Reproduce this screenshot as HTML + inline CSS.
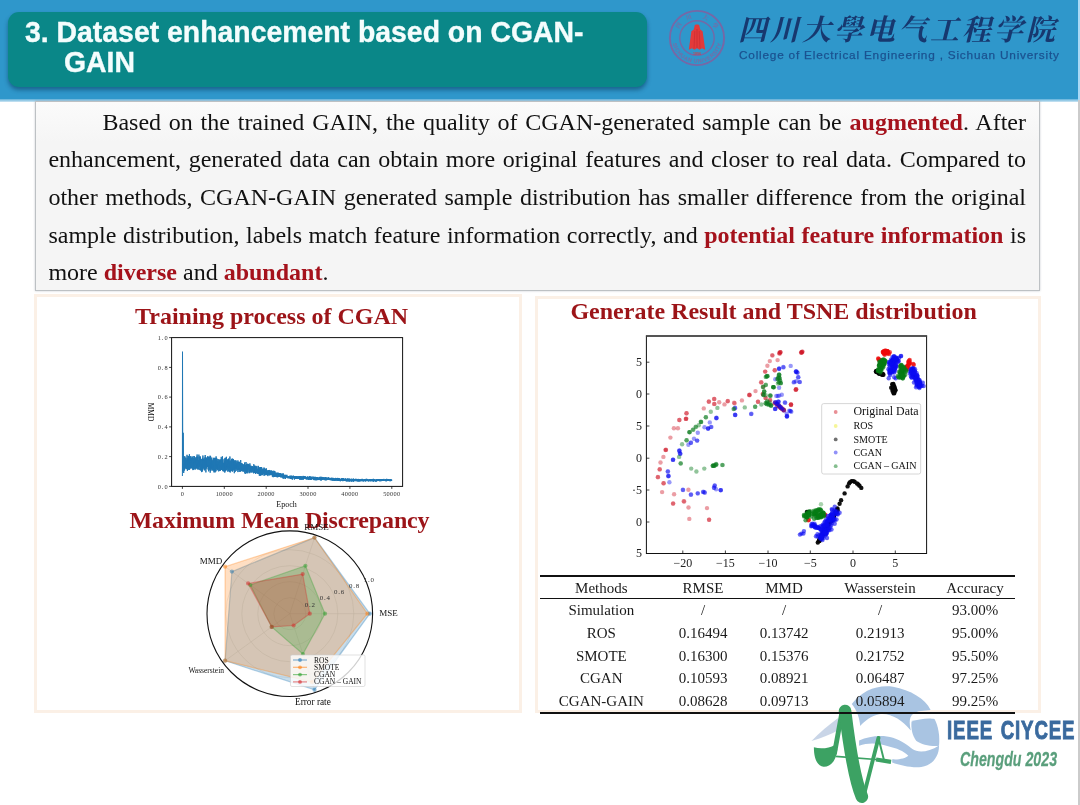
<!DOCTYPE html>
<html lang="en">
<head>
<meta charset="utf-8">
<title>3. Dataset enhancement based on CGAN-GAIN</title>
<style>
html,body{margin:0;padding:0;}
body{width:1080px;height:805px;position:relative;overflow:hidden;background:#fff;font-family:"Liberation Serif","Noto Serif CJK SC",serif;}
.abs{position:absolute;}
#hdr{left:0;top:0;width:1078px;height:99px;background:#2f97cb;}
#hdrline{left:0;top:99px;width:1078px;height:2.5px;background:linear-gradient(#5fb0da,#cfe6f3);}
#redge1{left:1078px;top:0;width:2px;height:100px;background:#a9d9f6;}
#redge2{left:1078px;top:100px;width:2px;height:705px;background:#cbcbcb;}
#teal{left:8px;top:12px;width:639px;height:74.5px;border-radius:11px;background:#0a8788;box-shadow:0 3px 4px rgba(0,40,70,.45);}
#title{left:25px;top:17px;width:620px;color:#f4fdfd;font-family:"Liberation Sans",sans-serif;font-weight:bold;font-size:28.4px;line-height:30.2px;white-space:nowrap;}
#title div{transform:scaleY(1.055);transform-origin:0 24.5px;-webkit-text-stroke:0.35px #f4fdfd;}
#title div.l2{padding-left:39px;}
#cn{left:738px;top:11px;width:324px;color:#17386f;font-family:"Liberation Serif","Noto Serif CJK SC",serif;font-weight:700;font-size:29px;line-height:38px;white-space:nowrap;letter-spacing:3px;font-style:italic;}
#en{left:739px;top:47.2px;width:324px;color:#1b5290;-webkit-text-stroke:0.25px #1b5290;font-family:"Liberation Sans",sans-serif;font-size:11.8px;line-height:16px;white-space:nowrap;letter-spacing:0.79px;}
#tbox{left:35px;top:101px;width:1003px;height:188px;border:1px solid #bdc1c4;background:linear-gradient(#fbfbfb,#f5f5f5 40px);box-shadow:0 0 2px rgba(120,130,140,.4);}
#para{left:48.4px;top:103.8px;width:977.6px;font-size:24px;line-height:37.6px;color:#111;}
#para div{text-align:justify;text-align-last:justify;white-space:nowrap;height:37.6px;}
#para div.first{padding-left:54px;}
#para div.last{text-align:left;text-align-last:left;}
#para b{color:#a5121c;}
.panel{border:3.5px solid #fbf0e6;box-sizing:border-box;background:#fff;}
#pl{left:33.5px;top:294px;width:488px;height:419px;}
#pr{left:534.7px;top:296px;width:506px;height:417px;}
.h{color:#9c1418;font-weight:bold;font-size:24px;line-height:28px;white-space:nowrap;text-align:center;}
#h1{left:121.6px;top:302px;width:300px;}
#h2{left:79.5px;top:505.7px;width:400px;letter-spacing:-0.15px;}
#h3{left:523.6px;top:296.5px;width:500px;}
svg text{font-family:"Liberation Serif",serif;fill:#111;}
svg text.tk{font-size:6.3px;fill:#333;letter-spacing:0.3px;}
svg text.tk2{font-size:12px;fill:#222;}
svg text.lb{font-size:7.5px;fill:#111;}
.tc{position:absolute;width:120px;height:20px;line-height:20px;text-align:center;font-size:15px;color:#1a1a1a;white-space:nowrap;}
.rule{position:absolute;left:540.2px;width:474.5px;background:#111;}
#ieee1{left:947px;top:715.3px;color:#3a6a9e;font-family:"Liberation Sans",sans-serif;font-weight:bold;font-size:25px;line-height:30px;white-space:nowrap;transform-origin:0 0;transform:scaleX(0.746);letter-spacing:1.2px;word-spacing:2px;-webkit-text-stroke:0.9px #3a6a9e;}
#ieee2{left:959.7px;top:746.8px;color:#5a9f7c;font-family:"Liberation Sans",sans-serif;font-weight:bold;font-style:italic;font-size:21px;line-height:24px;white-space:nowrap;transform-origin:0 0;transform:scaleX(0.676);-webkit-text-stroke:0.3px #5a9f7c;}
</style>
</head>
<body>
<div id="hdr" class="abs"></div>
<div id="hdrline" class="abs"></div>
<div id="redge1" class="abs"></div>
<div id="redge2" class="abs"></div>
<div id="teal" class="abs"></div>
<div id="title" class="abs"><div>3. Dataset enhancement based on CGAN-</div><div class="l2">GAIN</div></div>

<svg class="abs" style="left:667px;top:8px" width="60" height="60" viewBox="0 0 60 60">
  <circle cx="30" cy="30" r="27.1" fill="none" stroke="#7668a6" stroke-width="1.9"/>
  <circle cx="30" cy="30" r="17.2" fill="none" stroke="#7668a6" stroke-width="1.4"/>
  <text font-size="5.4" font-weight="bold" x="5.73 7.01 7.78 10.10 13.04 16.52 20.43 24.64 26.60 31.00 35.36 37.31 41.12 44.64 47.95 50.49 51.59 53.23" y="35.43 39.32 41.18 44.93 48.20 50.91 52.96 54.23 54.64 54.86 54.23 53.77 52.24 50.11 47.21 43.99 42.31 38.87" rotate="73.2 66.2 58.8 48.6 38.5 28.3 18.1 10.7 3.4 -6.8 -14.2 -21.3 -30.7 -40.5 -50.4 -57.4 -64.1 -73.2" style="font-family:'Liberation Sans',sans-serif;fill:#7a69a4">SICHUAN UNIVERSITY</text>
  <text font-size="5.8" font-weight="bold" x="11.63 19.74 34.88 45.12" y="21.11 12.36 10.18 16.30" rotate="-56.0 -22.0 22.0 56.0" style="font-family:'Liberation Serif','Noto Serif CJK SC',serif;fill:#7a69a4">四川大學</text>
  <path d="M21.8 41.7 L24.4 23.2 L26.8 21.6 L27.8 17 L29 16.4 L31 16.4 L32.2 17 L33.2 21.6 L35.6 23.2 L38.2 41.7 L35 40.3 L32.6 41.7 L30 40.3 L27.4 41.7 L25 40.3 Z" fill="#e33a3a"/>
  <path d="M27.8 23 L27 40.5 M32.2 23 L33 40.5 M30 21 L30 40" stroke="#c52a30" stroke-width="0.6" fill="none"/>
  <text x="30" y="46.6" font-size="3.6" font-weight="bold" text-anchor="middle" style="font-family:'Liberation Sans',sans-serif;fill:#c5474f">1896</text>
</svg>

<div id="cn" class="abs">四川大學电气工程学院</div>
<div id="en" class="abs">College of Electrical Engineering , Sichuan University</div>

<div id="tbox" class="abs"></div>
<div id="para" class="abs">
<div class="first">Based on the trained GAIN, the quality of CGAN-generated sample can be <b>augmented</b>. After</div>
<div>enhancement, generated data can obtain more original features and closer to real data. Compared to</div>
<div>other methods, CGAN-GAIN generated sample distribution has smaller difference from the original</div>
<div>sample distribution, labels match feature information correctly, and <b>potential feature information</b> is</div>
<div class="last">more <b>diverse</b> and <b>abundant</b>.</div>
</div>

<div id="pl" class="abs panel"></div>
<div id="pr" class="abs panel"></div>

<svg class="abs" style="left:0;top:0" width="1080" height="805" viewBox="0 0 1080 805">
<g id="linechart">
<rect x="171.6" y="337.6" width="231.00000000000003" height="148.79999999999995" fill="#fff" stroke="#111" stroke-width="1"/>
<polyline points="182.4,476 182.5,351.7 182.8,471.5 183.2,432.8 183.7,473 184.1,464.9 184.2,463.9 184.2,468.4 184.3,464.3 184.4,456.7 184.5,470.5 184.6,463.6 184.6,469.6 184.7,468.6 184.8,456.2 184.9,461.1 185,468.7 185,468.8 185.1,465.4 185.2,462.1 185.3,461.6 185.4,468 185.4,464.3 185.5,461.6 185.6,462.5 185.7,457.6 185.8,461 185.8,464.4 185.9,458.4 186,466.6 186.1,462.3 186.2,460.3 186.2,461 186.3,469.2 186.4,465.8 186.5,468.6 186.6,463.6 186.6,460 186.7,464.1 186.8,460.9 186.9,468.6 187,454.8 187,459.8 187.1,466.9 187.2,460 187.3,466.3 187.4,458.8 187.4,470.9 187.5,464.6 187.6,462.7 187.7,458.9 187.8,458.4 187.8,464.5 187.9,470 188,463.6 188.1,455.9 188.2,459.1 188.2,460.6 188.3,459.4 188.4,456.2 188.5,468.5 188.6,466.4 188.6,469.5 188.7,466 188.8,466.1 188.9,461.6 189,456.3 189,463.4 189.1,464.5 189.2,469.6 189.3,468.8 189.4,454.2 189.4,466 189.5,461.3 189.6,469.7 189.7,462.4 189.7,461.1 189.8,456.2 189.9,466.2 190,458.3 190.1,463.1 190.1,456.7 190.2,462.9 190.3,468.6 190.4,460.3 190.5,463.1 190.5,462.5 190.6,458.4 190.7,467.7 190.8,460.3 190.9,456.1 190.9,460.9 191,462.5 191.1,464.8 191.2,462.5 191.3,460.9 191.3,457.5 191.4,459.5 191.5,468.1 191.6,464.9 191.7,458 191.7,463.2 191.8,461 191.9,463.4 192,458.4 192.1,468.7 192.1,466.7 192.2,465.7 192.3,461.1 192.4,463.1 192.5,458.7 192.5,458.2 192.6,457.2 192.7,463.2 192.8,463.6 192.9,470.1 192.9,463.4 193,459.8 193.1,456 193.2,469 193.3,458.7 193.3,461 193.4,461.4 193.5,467.8 193.6,469.7 193.7,462.6 193.7,463.9 193.8,458.4 193.9,469.6 194,465.9 194.1,460.4 194.1,467.2 194.2,458.3 194.3,459 194.4,456.1 194.5,458.4 194.5,462.6 194.6,457.8 194.7,461.5 194.8,468.8 194.9,461.4 194.9,462.5 195,459.9 195.1,459.1 195.2,457.7 195.3,465.5 195.3,469.5 195.4,463 195.5,459.4 195.6,463.9 195.7,459.7 195.7,462.9 195.8,463 195.9,461.1 196,457.2 196.1,458.3 196.1,464.6 196.2,463.9 196.3,460.1 196.4,467.3 196.5,459.2 196.5,458.8 196.6,468.1 196.7,456.6 196.8,459.7 196.9,464.9 196.9,467.9 197,469.1 197.1,454.5 197.2,465.4 197.3,465.2 197.3,460.1 197.4,466 197.5,464 197.6,464.3 197.7,463 197.7,468.6 197.8,456.6 197.9,467.3 198,469.7 198.1,466.4 198.1,460.1 198.2,464.9 198.3,460.4 198.4,466.3 198.5,464.3 198.5,466.5 198.6,461.9 198.7,469.1 198.8,469.3 198.9,463.7 198.9,454.6 199,459.1 199.1,461.6 199.2,462.9 199.3,457.2 199.3,466.6 199.4,466.2 199.5,461.5 199.6,466.2 199.7,466.5 199.7,456.4 199.8,470.1 199.9,463.1 200,457.3 200.1,460.6 200.1,460.6 200.2,458.7 200.3,460.7 200.4,465.6 200.5,464.3 200.5,456.6 200.6,468.1 200.7,464.3 200.8,470.6 200.9,459.8 200.9,462.4 201,469.8 201.1,469.4 201.2,468.3 201.3,458.9 201.3,465.9 201.4,467.4 201.5,472.1 201.6,467.5 201.7,463.4 201.7,467 201.8,469.2 201.9,468.4 202,464.5 202.1,466.2 202.1,469.3 202.2,460.7 202.3,458.9 202.4,468.4 202.5,471.5 202.5,460.2 202.6,457.8 202.7,458.9 202.8,469.3 202.9,467.1 202.9,455.5 203,458.8 203.1,461.7 203.2,463.7 203.3,464.1 203.3,460.1 203.4,461.3 203.5,459.2 203.6,467 203.7,458.7 203.7,460.4 203.8,468.3 203.9,463.7 204,467.7 204.1,459.8 204.1,469.5 204.2,465.2 204.3,461.9 204.4,470.4 204.5,463.8 204.5,460.2 204.6,465.7 204.7,464.2 204.8,459.9 204.9,466.3 204.9,457.5 205,466.6 205.1,458 205.2,455 205.3,467.7 205.3,469.6 205.4,467.2 205.5,457.3 205.6,462.7 205.7,459.9 205.7,468.4 205.8,465.2 205.9,472.4 206,460.5 206.1,466.5 206.1,465.2 206.2,465.5 206.3,468.6 206.4,459 206.5,457.6 206.5,461.6 206.6,467.2 206.7,465.2 206.8,466.2 206.9,460.2 206.9,466.8 207,460.5 207.1,461.9 207.2,466.2 207.3,464.4 207.3,466.8 207.4,458.8 207.5,457.1 207.6,458 207.7,460.7 207.7,456.2 207.8,464.5 207.9,462.4 208,464 208.1,469.6 208.1,465.3 208.2,466.2 208.3,465.1 208.4,467.3 208.5,469.2 208.5,471.3 208.6,463 208.7,456.7 208.8,464.9 208.9,467.4 208.9,466.1 209,465.6 209.1,467.3 209.2,457.1 209.3,465.5 209.3,465.1 209.4,459.5 209.5,466.1 209.6,469.1 209.7,469.6 209.7,465.9 209.8,464.6 209.9,459 210,470.4 210.1,460.3 210.1,455.7 210.2,472.7 210.3,456.4 210.4,457.3 210.5,460 210.5,468.8 210.6,456.2 210.7,469.8 210.8,470.9 210.9,467.7 210.9,462.6 211,459.5 211.1,463.5 211.2,461.2 211.2,467.9 211.3,463.7 211.4,465.6 211.5,460 211.6,468.8 211.6,459.2 211.7,457.6 211.8,464.4 211.9,463.4 212,459.5 212,470.3 212.1,464.1 212.2,469.9 212.3,462.4 212.4,467.9 212.4,460.7 212.5,466.5 212.6,467 212.7,460.7 212.8,468.2 212.8,466.7 212.9,467.9 213,466.4 213.1,470.9 213.2,462.6 213.2,464.3 213.3,457.8 213.4,458.2 213.5,468.2 213.6,465.3 213.6,469.7 213.7,460.3 213.8,460.9 213.9,459.9 214,469.6 214,472.4 214.1,460.9 214.2,465 214.3,469.1 214.4,471.5 214.4,457.8 214.5,463.3 214.6,465.4 214.7,458.6 214.8,471.4 214.8,469.5 214.9,467.2 215,460.1 215.1,472.4 215.2,468.6 215.2,470.7 215.3,464.7 215.4,467.6 215.5,460.4 215.6,465.6 215.6,457.9 215.7,466.6 215.8,460.1 215.9,471.2 216,470.9 216,471.2 216.1,456.4 216.2,459.2 216.3,459.9 216.4,458.3 216.4,469.1 216.5,459.8 216.6,463.3 216.7,458 216.8,466.3 216.8,464.1 216.9,460.8 217,465.6 217.1,464.5 217.2,470.3 217.2,459 217.3,467.7 217.4,469.5 217.5,464.4 217.6,468.9 217.6,465.5 217.7,460.9 217.8,461.7 217.9,466.4 218,465.6 218,468.6 218.1,468.8 218.2,469.3 218.3,467.5 218.4,467.9 218.4,464.3 218.5,462.3 218.6,462.3 218.7,471.4 218.8,459.1 218.8,461.1 218.9,469 219,468.2 219.1,468.8 219.2,460.3 219.2,464.3 219.3,465 219.4,460.6 219.5,468.4 219.6,467.3 219.6,466.7 219.7,467.4 219.8,471 219.9,461.4 220,465.4 220,467.6 220.1,470.4 220.2,459.4 220.3,470.6 220.4,460.4 220.4,462.6 220.5,461.9 220.6,461.1 220.7,459.8 220.8,465.7 220.8,466.4 220.9,465.8 221,461 221.1,462.1 221.2,461.4 221.2,456.9 221.3,457.6 221.4,470 221.5,465.5 221.6,465.2 221.6,469.8 221.7,463.7 221.8,468.7 221.9,461.3 222,468.1 222,469.4 222.1,458.7 222.2,466.3 222.3,467.4 222.4,456.3 222.4,467.9 222.5,470.5 222.6,462.7 222.7,463 222.8,460.1 222.8,463.8 222.9,466.1 223,466.3 223.1,469.6 223.2,471.1 223.2,463.1 223.3,471.4 223.4,464.2 223.5,463.3 223.6,463.3 223.6,465.8 223.7,465.7 223.8,469.2 223.9,462.7 224,465.4 224,460.2 224.1,458.9 224.2,466.2 224.3,471.3 224.4,467.1 224.4,464.7 224.5,471.2 224.6,468.9 224.7,460.9 224.8,472.6 224.8,462.7 224.9,471.4 225,457.9 225.1,470.2 225.2,467.8 225.2,462.2 225.3,469.1 225.4,463.8 225.5,468.2 225.6,457.8 225.6,471.1 225.7,467.7 225.8,463.2 225.9,467.4 226,470.1 226,468.2 226.1,461.7 226.2,468.1 226.3,470.3 226.4,463.6 226.4,456.8 226.5,464.1 226.6,469.2 226.7,462.6 226.8,467.2 226.8,464.2 226.9,467.3 227,465.7 227.1,463.3 227.2,466.9 227.2,466.8 227.3,461.7 227.4,467.7 227.5,462.9 227.6,465.8 227.6,459.4 227.7,465.1 227.8,471.7 227.9,464.3 228,468.8 228,464.4 228.1,463.8 228.2,470.2 228.3,469.8 228.4,458.9 228.4,461.4 228.5,470.7 228.6,461.4 228.7,466 228.8,458.5 228.8,463.6 228.9,463.4 229,463.3 229.1,468.6 229.2,471.4 229.2,466.4 229.3,469.8 229.4,471.9 229.5,470.1 229.6,464.8 229.6,460.7 229.7,465 229.8,467.9 229.9,456.5 230,462.1 230,467.3 230.1,460.8 230.2,472.5 230.3,469.7 230.4,468.5 230.4,468.8 230.5,463.1 230.6,462.8 230.7,463.3 230.8,468 230.8,471 230.9,469.8 231,460.4 231.1,460.8 231.2,470.6 231.2,467.6 231.3,467.3 231.4,465.6 231.5,458.9 231.6,458.8 231.6,464.5 231.7,460.2 231.8,463.5 231.9,464.3 232,470.2 232,470.7 232.1,467.4 232.2,462.4 232.3,471.7 232.3,462.5 232.4,469.5 232.5,469.5 232.6,458.6 232.7,470.2 232.7,469 232.8,471.1 232.9,462.5 233,465.6 233.1,470.4 233.1,467.2 233.2,466.3 233.3,466.7 233.4,469.3 233.5,459.1 233.5,461.1 233.6,461.9 233.7,466.3 233.8,467.4 233.9,465.1 233.9,462.9 234,464.9 234.1,469.6 234.2,465.4 234.3,462.4 234.3,473.2 234.4,470.6 234.5,461.7 234.6,461.8 234.7,464.7 234.7,468.3 234.8,460.4 234.9,465.8 235,460.5 235.1,465.9 235.1,464.7 235.2,471.9 235.3,461.1 235.4,466.8 235.5,466.9 235.5,468.7 235.6,467.4 235.7,460.6 235.8,465.6 235.9,467.2 235.9,465.6 236,464.6 236.1,470.9 236.2,464.4 236.3,465.1 236.3,468 236.4,466 236.5,468.4 236.6,463.5 236.7,464.3 236.7,468.9 236.8,462.4 236.9,460.6 237,470.1 237.1,469.8 237.1,462.2 237.2,462.8 237.3,468.9 237.4,464.7 237.5,469.5 237.5,466.7 237.6,467.8 237.7,464.8 237.8,466.8 237.9,469.9 237.9,472.1 238,460.5 238.1,463.5 238.2,462.4 238.3,464.4 238.3,466.9 238.4,469.3 238.5,462 238.6,463.3 238.7,470.1 238.7,466.8 238.8,464.8 238.9,466.4 239,463.5 239.1,462.7 239.1,462.9 239.2,471.9 239.3,470.6 239.4,466.5 239.5,461.8 239.5,466.2 239.6,466.7 239.7,466.5 239.8,463.4 239.9,470.1 239.9,468 240,465 240.1,465.8 240.2,470.1 240.3,471.8 240.3,468.1 240.4,465.9 240.5,466 240.6,470.8 240.7,462.1 240.7,460.1 240.8,467.4 240.9,471.2 241,463.6 241.1,467.4 241.1,463.6 241.2,469.1 241.3,467.4 241.4,464.3 241.5,463.3 241.5,468.8 241.6,470.4 241.7,464.6 241.8,464.8 241.9,471.1 241.9,468.3 242,469.7 242.1,468.1 242.2,466.1 242.3,470 242.3,463.5 242.4,470.5 242.5,464.3 242.6,467.2 242.7,466 242.7,465.7 242.8,464 242.9,470.2 243,466.6 243.1,471.7 243.1,469.2 243.2,471.4 243.3,464.4 243.4,466.4 243.5,466.3 243.5,470.8 243.6,467.2 243.7,465.8 243.8,467.2 243.9,468.5 243.9,468 244,467.9 244.1,465.6 244.2,467.7 244.3,470.3 244.3,468.2 244.4,465.6 244.5,469.4 244.6,462.5 244.7,470.2 244.7,466.4 244.8,472.9 244.9,466.5 245,464.7 245.1,467.8 245.1,465.2 245.2,474 245.3,467.1 245.4,470.9 245.5,469.6 245.5,469.6 245.6,468.8 245.7,465.7 245.8,469.9 245.9,468.8 245.9,465.4 246,462 246.1,466 246.2,470.4 246.3,472 246.3,465.3 246.4,469.5 246.5,467.8 246.6,469.3 246.7,473.3 246.7,464.2 246.8,467.2 246.9,464.6 247,467.1 247.1,472 247.1,467.1 247.2,472.4 247.3,463.7 247.4,465.6 247.5,469.7 247.5,466.4 247.6,464.8 247.7,469 247.8,473.3 247.9,468.5 247.9,464.5 248,467.6 248.1,469.1 248.2,466.8 248.3,468.9 248.3,468.1 248.4,467.2 248.5,464.7 248.6,469.4 248.7,466.9 248.7,463.9 248.8,471.5 248.9,472.4 249,471 249.1,469.2 249.1,465.9 249.2,466.1 249.3,466.6 249.4,471.4 249.5,469.1 249.5,464.8 249.6,466.8 249.7,473.2 249.8,469.7 249.9,466.7 249.9,463.4 250,468.2 250.1,470.6 250.2,469.3 250.3,472.4 250.3,470.4 250.4,467.5 250.5,469.3 250.6,466.1 250.7,471.1 250.7,468.3 250.8,465.6 250.9,467 251,468.4 251.1,470.7 251.1,468.2 251.2,467.2 251.3,468 251.4,472.1 251.5,472.5 251.5,471.3 251.6,466.4 251.7,472 251.8,470.8 251.9,468.9 251.9,466.6 252,466.7 252.1,471.2 252.2,467.4 252.3,468.1 252.3,468.7 252.4,466.1 252.5,469.2 252.6,467 252.7,470.2 252.7,467.1 252.8,469.8 252.9,472.4 253,472.2 253.1,470.5 253.1,470.5 253.2,472.5 253.3,470.8 253.4,471.1 253.5,467.1 253.5,471.4 253.6,471.1 253.7,473.4 253.8,464.2 253.8,469 253.9,471.3 254,470.7 254.1,467.4 254.2,472.1 254.2,471.3 254.3,471 254.4,472.7 254.5,465.8 254.6,470.1 254.6,465.9 254.7,466.2 254.8,472.1 254.9,468.5 255,472.8 255,471.2 255.1,465.7 255.2,472.1 255.3,466.2 255.4,466.6 255.4,467.2 255.5,472.8 255.6,474 255.7,471.8 255.8,467.5 255.8,469.2 255.9,468 256,470.4 256.1,472.4 256.2,471.6 256.2,473.2 256.3,467.7 256.4,470.6 256.5,467.8 256.6,466.7 256.6,472.9 256.7,467.1 256.8,468 256.9,465.9 257,467.5 257,470.8 257.1,472 257.2,470.6 257.3,473.5 257.4,468.5 257.4,468.8 257.5,471.1 257.6,473 257.7,472.7 257.8,472 257.8,472 257.9,472.7 258,472.6 258.1,473.9 258.2,469.6 258.2,470.4 258.3,473.9 258.4,465.9 258.5,466.7 258.6,467.3 258.6,471.9 258.7,467.6 258.8,468.9 258.9,473.8 259,471.2 259,470.8 259.1,473.8 259.2,474.1 259.3,475.6 259.4,473.3 259.4,473.9 259.5,470.8 259.6,469.3 259.7,470.2 259.8,467.1 259.8,469 259.9,473.4 260,470.4 260.1,476 260.2,468.4 260.2,471 260.3,472.8 260.4,475.3 260.5,467.1 260.6,473.3 260.6,472.6 260.7,473.8 260.8,470.7 260.9,472.7 261,467.6 261,474.3 261.1,469.6 261.2,468.6 261.3,470.8 261.4,473 261.4,467 261.5,471.8 261.6,471.2 261.7,475.2 261.8,473.6 261.8,473.3 261.9,473.4 262,475.2 262.1,473.8 262.2,471.3 262.2,474.6 262.3,469.9 262.4,473.8 262.5,471.7 262.6,474.6 262.6,472.4 262.7,471.4 262.8,469 262.9,470.1 263,469.9 263,468.4 263.1,467.7 263.2,470.3 263.3,472.6 263.4,470.4 263.4,472.4 263.5,470.7 263.6,469.5 263.7,473.2 263.8,469.5 263.8,474.2 263.9,470.7 264,473 264.1,475.9 264.2,474.2 264.2,474.5 264.3,467.7 264.4,471.1 264.5,474.4 264.6,469.9 264.6,471.2 264.7,471.5 264.8,474.9 264.9,472.6 265,473.2 265,473.3 265.1,474.1 265.2,475.2 265.3,472.7 265.4,468.8 265.4,471.9 265.5,474.1 265.6,471.1 265.7,469.9 265.8,471.3 265.8,472.1 265.9,472.6 266,471.4 266.1,470.2 266.2,474.2 266.2,475.1 266.3,468.3 266.4,474.8 266.5,474.8 266.6,473.4 266.6,472.6 266.7,469.9 266.8,474 266.9,474.9 267,472.1 267,473 267.1,472.5 267.2,473.6 267.3,472.5 267.4,473.1 267.4,475.1 267.5,472.1 267.6,470.5 267.7,470.7 267.8,474.3 267.8,473.4 267.9,476.1 268,472.8 268.1,473.2 268.2,470.3 268.2,473.9 268.3,472 268.4,471.9 268.5,474.1 268.6,471.9 268.6,470.6 268.7,473.5 268.8,474.4 268.9,470.5 269,472.5 269,474.9 269.1,474.2 269.2,470.1 269.3,470 269.4,475.2 269.4,472.6 269.5,474 269.6,472.8 269.7,473 269.8,473.7 269.8,475.3 269.9,473.5 270,472.1 270.1,475 270.2,473.3 270.2,470.3 270.3,473.4 270.4,472.1 270.5,472.1 270.6,474.8 270.6,474.2 270.7,471.3 270.8,475.1 270.9,471.9 271,472.9 271,471.5 271.1,473.4 271.2,474 271.3,472.7 271.4,474.4 271.4,472.4 271.5,472.3 271.6,472.3 271.7,470.4 271.8,471.5 271.8,472.6 271.9,475 272,471.4 272.1,473.1 272.2,473.1 272.2,475.8 272.3,476.5 272.4,476.2 272.5,471.3 272.6,471.9 272.6,473.2 272.7,475.9 272.8,474.7 272.9,476.6 273,471.7 273,475 273.1,473.2 273.2,477.2 273.3,473.4 273.4,474.3 273.4,475.4 273.5,476 273.6,475.3 273.7,474.8 273.8,470.7 273.8,471.3 273.9,475.9 274,473.1 274.1,474.7 274.2,471.4 274.2,476.8 274.3,476.5 274.4,475 274.5,476.1 274.6,474.6 274.6,476.9 274.7,475.2 274.8,471 274.9,473 274.9,473.9 275,475.5 275.1,475.4 275.2,476.9 275.3,475.2 275.3,475.8 275.4,476 275.5,474.2 275.6,474 275.7,472.6 275.7,475.8 275.8,476.4 275.9,475.2 276,475.9 276.1,474.5 276.1,472.6 276.2,472.9 276.3,473.9 276.4,474.3 276.5,474.4 276.5,474.1 276.6,476.6 276.7,473.7 276.8,474.5 276.9,473.1 276.9,477.2 277,476 277.1,473.6 277.2,473.3 277.3,475.7 277.3,476.4 277.4,473.7 277.5,475.9 277.6,476.3 277.7,477.3 277.7,476.3 277.8,472.7 277.9,473.5 278,472.7 278.1,476.6 278.1,473 278.2,474 278.3,476.6 278.4,475.8 278.5,476.6 278.5,476.2 278.6,474 278.7,475.6 278.8,475.3 278.9,476.8 278.9,474.9 279,474.8 279.1,474.9 279.2,473.7 279.3,473.1 279.3,474.1 279.4,473.3 279.5,473 279.6,476.8 279.7,476.3 279.7,474.1 279.8,475.8 279.9,473 280,476.4 280.1,476.3 280.1,475.6 280.2,474.3 280.3,475.4 280.4,475.8 280.5,475.5 280.5,477 280.6,477 280.7,473.3 280.8,475.3 280.9,473.4 280.9,476.4 281,476.9 281.1,477.7 281.2,474.8 281.3,474.7 281.3,475.6 281.4,476.8 281.5,474.8 281.6,474 281.7,475.3 281.7,476.5 281.8,475.5 281.9,475 282,475.2 282.1,473.9 282.1,474.4 282.2,475 282.3,476.5 282.4,477.3 282.5,476.7 282.5,474.8 282.6,473.9 282.7,476.9 282.8,475.7 282.9,477.4 282.9,478.4 283,473.4 283.1,477.3 283.2,474.6 283.3,478.1 283.3,473.7 283.4,477 283.5,478.2 283.6,475.7 283.7,475.5 283.7,477.7 283.8,478.6 283.9,475.2 284,476.8 284.1,477.4 284.1,475.6 284.2,476.6 284.3,476.8 284.4,477.3 284.5,475.4 284.5,477.4 284.6,478.3 284.7,474.8 284.8,476.4 284.9,475.8 284.9,476 285,477.8 285.1,478.1 285.2,475.8 285.3,478.1 285.3,474.8 285.4,477.4 285.5,478.9 285.6,477.9 285.7,475.8 285.7,475.1 285.8,476.8 285.9,475.1 286,477.1 286.1,476.8 286.1,476.4 286.2,477.8 286.3,476.6 286.4,475 286.5,475 286.5,475.6 286.6,476.2 286.7,476.5 286.8,476.5 286.9,474.8 286.9,476.3 287,477.4 287.1,476.8 287.2,475.9 287.3,476.4 287.3,476.5 287.4,476.8 287.5,476.9 287.6,477.7 287.7,476.9 287.7,478.1 287.8,478.3 287.9,477 288,477.9 288.1,476.7 288.1,477.1 288.2,476.5 288.3,477 288.4,477.1 288.5,476.4 288.5,476 288.6,476.2 288.7,476 288.8,476.8 288.9,477.4 288.9,477.1 289,477 289.1,478.6 289.2,477.6 289.3,477.7 289.3,476.6 289.4,477.4 289.5,476.4 289.6,475.8 289.7,476.9 289.7,477.1 289.8,478.1 289.9,476.2 290,476.2 290.1,478 290.1,476.5 290.2,476.5 290.3,478.3 290.4,476.3 290.5,479 290.5,478.2 290.6,476.7 290.7,475.8 290.8,478.7 290.9,477.4 290.9,476.3 291,478.2 291.1,475.7 291.2,476.5 291.3,477.3 291.3,475.8 291.4,479 291.5,477.4 291.6,476.1 291.7,479.2 291.7,476.2 291.8,476.5 291.9,477.8 292,477.9 292.1,478.1 292.1,477.1 292.2,478.1 292.3,476.9 292.4,477.1 292.5,476.3 292.5,479.6 292.6,478 292.7,478.3 292.8,477 292.9,478 292.9,478.5 293,477.9 293.1,475.7 293.2,476 293.3,475.8 293.3,477 293.4,477.8 293.5,476.4 293.6,476.2 293.7,477 293.7,476.3 293.8,476.6 293.9,478.1 294,477.9 294.1,476.7 294.1,477.5 294.2,476.7 294.3,478.7 294.4,479.6 294.5,477.9 294.5,477.3 294.6,476 294.7,478.4 294.8,478.1 294.9,479 294.9,477.2 295,477.3 295.1,477.2 295.2,478.2 295.3,476.8 295.3,476.7 295.4,476.6 295.5,476.2 295.6,476.9 295.7,478.5 295.7,478.8 295.8,477.7 295.9,476.3 296,478.6 296,476 296.1,478.6 296.2,476.8 296.3,478.7 296.4,477.1 296.4,478.3 296.5,476.3 296.6,477 296.7,477.3 296.8,479 296.8,476.6 296.9,477.3 297,476.4 297.1,478.7 297.2,476.4 297.2,476.6 297.3,478.7 297.4,478.8 297.5,478.8 297.6,477.5 297.6,478 297.7,477.9 297.8,477.3 297.9,478.3 298,476.3 298,477 298.1,477 298.2,477.5 298.3,477.6 298.4,478.9 298.4,477.5 298.5,477.3 298.6,478.9 298.7,478 298.8,476.2 298.8,479 298.9,477.5 299,478.3 299.1,476.9 299.2,476.5 299.2,477.7 299.3,476.8 299.4,478 299.5,478.4 299.6,476 299.6,477.8 299.7,476.8 299.8,479.1 299.9,479.6 300,477.3 300,479.6 300.1,478.1 300.2,476.3 300.3,479.4 300.4,478.8 300.4,478.4 300.5,479 300.6,477.5 300.7,476.2 300.8,478.8 300.8,477.9 300.9,476.3 301,477 301.1,479.2 301.2,477.9 301.2,479.2 301.3,478.8 301.4,476.5 301.5,477 301.6,479.7 301.6,478.9 301.7,476.7 301.8,477.2 301.9,479 302,478.7 302,478.7 302.1,479.2 302.2,478 302.3,478.8 302.4,477.3 302.4,476.6 302.5,477.6 302.6,476.9 302.7,479.4 302.8,477.6 302.8,477.1 302.9,476.7 303,479.4 303.1,479.5 303.2,475.9 303.2,479.6 303.3,477.3 303.4,477.5 303.5,477.8 303.6,476.4 303.6,478.4 303.7,476.8 303.8,477.4 303.9,477.3 304,478.7 304,476.4 304.1,477.9 304.2,477.3 304.3,478.5 304.4,477.2 304.4,477.9 304.5,477.5 304.6,478.2 304.7,477.8 304.8,476 304.8,476.9 304.9,477 305,478.6 305.1,477.2 305.2,476.4 305.2,477.5 305.3,476.9 305.4,476.7 305.5,478.2 305.6,477.2 305.6,477.9 305.7,478.2 305.8,478.1 305.9,478 306,479.1 306,478.5 306.1,478.3 306.2,477.8 306.3,479.5 306.4,477.1 306.4,479 306.5,477.2 306.6,478 306.7,477.8 306.8,479.1 306.8,478 306.9,477 307,477.5 307.1,476.8 307.2,479.1 307.2,478.5 307.3,476.7 307.4,479.3 307.5,477.3 307.6,479 307.6,477.7 307.7,478.3 307.8,478.6 307.9,476.5 308,478.3 308,477.4 308.1,477.3 308.2,479.8 308.3,478.6 308.4,477.9 308.4,477.5 308.5,479.7 308.6,479.3 308.7,479.6 308.8,478.6 308.8,477.2 308.9,479.2 309,479.8 309.1,477 309.2,479 309.2,477.9 309.3,476.5 309.4,478.6 309.5,477.7 309.6,476.3 309.6,477.9 309.7,478.8 309.8,477.1 309.9,476.8 310,477.1 310,479.6 310.1,478.8 310.2,479.9 310.3,478.7 310.4,478.2 310.4,479.8 310.5,476.5 310.6,478.6 310.7,479.3 310.8,478.5 310.8,479.4 310.9,477.7 311,478.6 311.1,477.3 311.2,478.1 311.2,477.4 311.3,479.6 311.4,478.1 311.5,479.6 311.6,477.2 311.6,478.1 311.7,477.3 311.8,477.4 311.9,476.8 312,477.2 312,476.7 312.1,477.1 312.2,478.9 312.3,478.3 312.4,479 312.4,478.3 312.5,478.8 312.6,478 312.7,478.1 312.8,477.9 312.8,479.1 312.9,477.7 313,479 313.1,479.4 313.2,476.6 313.2,477.7 313.3,478.7 313.4,479.3 313.5,477.6 313.6,478.2 313.6,477.4 313.7,479.9 313.8,477.7 313.9,479.3 314,477.2 314,478.8 314.1,479.3 314.2,480.2 314.3,477.3 314.4,479.8 314.4,477.2 314.5,479.4 314.6,478.4 314.7,477.5 314.8,479.6 314.8,478.4 314.9,479.7 315,476.7 315.1,479.1 315.2,477.6 315.2,477.9 315.3,477.3 315.4,480.3 315.5,479.1 315.6,477.6 315.6,477.8 315.7,478.9 315.8,479 315.9,479.6 316,478.8 316,479 316.1,478 316.2,478 316.3,479.5 316.4,477.6 316.4,479.2 316.5,479.4 316.6,479.7 316.7,477 316.8,479 316.8,480.4 316.9,477.3 317,479.2 317.1,477.4 317.2,479.7 317.2,479.3 317.3,478.4 317.4,480 317.5,477.5 317.5,479.5 317.6,478.1 317.7,479.3 317.8,478.7 317.9,478.9 317.9,479.3 318,477.4 318.1,479.9 318.2,477.5 318.3,478.7 318.3,480 318.4,478.9 318.5,478.8 318.6,479.9 318.7,479 318.7,479.3 318.8,479 318.9,479.9 319,480.1 319.1,479.3 319.1,479.2 319.2,479.7 319.3,478.6 319.4,477.7 319.5,478.9 319.5,477.1 319.6,477.9 319.7,477.4 319.8,479.9 319.9,478.7 319.9,478.1 320,480 320.1,479.4 320.2,476.7 320.3,479 320.3,479.3 320.4,480 320.5,479.5 320.6,477.7 320.7,478.4 320.7,480.1 320.8,478 320.9,480.3 321,478.4 321.1,480.6 321.1,477.8 321.2,480 321.3,479.8 321.4,479.5 321.5,477.9 321.5,479.7 321.6,478.2 321.7,476.8 321.8,479.7 321.9,477.5 321.9,479.7 322,477.4 322.1,479.6 322.2,478.5 322.3,478.1 322.3,479.6 322.4,477.2 322.5,477.8 322.6,478.9 322.7,478 322.7,479.7 322.8,478 322.9,479.8 323,478.6 323.1,478.6 323.1,479.2 323.2,478.2 323.3,477.6 323.4,477.5 323.5,478.5 323.5,478.2 323.6,477.9 323.7,479.4 323.8,477.1 323.9,479 323.9,478.9 324,478.7 324.1,479.4 324.2,478.6 324.3,479.2 324.3,480.1 324.4,479.2 324.5,480 324.6,479.3 324.7,479.1 324.7,477.9 324.8,479.6 324.9,477.4 325,479.3 325.1,477.5 325.1,477.8 325.2,479.2 325.3,480.4 325.4,480.1 325.5,479 325.5,478.2 325.6,477.1 325.7,479.7 325.8,478.4 325.9,478.9 325.9,479.1 326,479.5 326.1,477.6 326.2,477.4 326.3,479 326.3,480.3 326.4,478.7 326.5,479.5 326.6,478.1 326.7,480 326.7,479 326.8,478 326.9,480.1 327,477.5 327.1,478.5 327.1,478.6 327.2,479.6 327.3,479.3 327.4,478.4 327.5,479 327.5,478.6 327.6,479.7 327.7,478.3 327.8,477.8 327.9,479 327.9,480 328,478.5 328.1,478.7 328.2,478.5 328.3,477.7 328.3,479.9 328.4,479.7 328.5,477.5 328.6,479.9 328.7,479.4 328.7,479.5 328.8,479.8 328.9,477.5 329,479.1 329.1,478.8 329.1,480 329.2,478.1 329.3,478.5 329.4,478.6 329.5,479.5 329.5,479 329.6,478.1 329.7,479.8 329.8,480.1 329.9,479.4 329.9,479.8 330,478 330.1,478.2 330.2,478.1 330.3,477.9 330.3,478.7 330.4,478.1 330.5,478.4 330.6,479.5 330.7,478.5 330.7,478.1 330.8,479 330.9,478.8 331,479.9 331.1,478.5 331.1,480.5 331.2,478.1 331.3,478.9 331.4,479.8 331.5,478.4 331.5,480.2 331.6,479.2 331.7,477.7 331.8,478.1 331.9,478.7 331.9,479 332,478.8 332.1,478.9 332.2,479.6 332.3,478.7 332.3,479.6 332.4,480 332.5,480.3 332.6,478.9 332.7,479.4 332.7,477.9 332.8,480.9 332.9,480.4 333,479.7 333.1,477.9 333.1,480.1 333.2,479.9 333.3,480.1 333.4,480.2 333.5,479.5 333.5,478.4 333.6,478.6 333.7,479.7 333.8,480.1 333.9,478.7 333.9,479 334,480.9 334.1,479 334.2,479.5 334.3,480.2 334.3,480.4 334.4,480 334.5,480.6 334.6,479.5 334.7,478.5 334.7,478.5 334.8,479.2 334.9,478.6 335,478.1 335.1,480.6 335.1,479.5 335.2,479.2 335.3,479.2 335.4,478.4 335.5,480.5 335.5,478.7 335.6,477.9 335.7,478.8 335.8,480.5 335.9,479.9 335.9,479.4 336,478.6 336.1,479.5 336.2,478.7 336.3,479.4 336.3,479.8 336.4,478.2 336.5,478.7 336.6,478.4 336.7,480.6 336.7,480.5 336.8,480.8 336.9,480.8 337,479.5 337.1,480.3 337.1,478.7 337.2,479 337.3,479.5 337.4,480.9 337.5,478 337.5,478.4 337.6,479.2 337.7,477.9 337.8,479.6 337.9,478.7 337.9,478.5 338,479.8 338.1,478.7 338.2,478.8 338.3,479.2 338.3,478.1 338.4,480.8 338.5,478.7 338.6,480.9 338.6,479.1 338.7,480.3 338.8,478.7 338.9,479.6 339,480.3 339,478.8 339.1,478 339.2,480.2 339.3,479.7 339.4,478.8 339.4,478.8 339.5,480.4 339.6,479.3 339.7,481 339.8,478.4 339.8,480.8 339.9,479.4 340,479.6 340.1,479.2 340.2,479.7 340.2,479.4 340.3,481.3 340.4,480.4 340.5,479.1 340.6,479.3 340.6,479.5 340.7,479.1 340.8,479 340.9,480.4 341,480 341,480.3 341.1,478.9 341.2,480.8 341.3,480.7 341.4,479.6 341.4,478.3 341.5,478.5 341.6,478.5 341.7,479.1 341.8,479.2 341.8,478.4 341.9,478.8 342,480.3 342.1,479.8 342.2,480.2 342.2,478.7 342.3,480.2 342.4,480.6 342.5,478 342.6,479.2 342.6,480.3 342.7,481.1 342.8,480 342.9,478.9 343,481.1 343,478.6 343.1,479.6 343.2,480.6 343.3,479.9 343.4,480.1 343.4,478.4 343.5,480.5 343.6,479.3 343.7,478.2 343.8,478.6 343.8,479.3 343.9,480.3 344,479 344.1,479.2 344.2,479.5 344.2,479.4 344.3,479.1 344.4,480.2 344.5,480.9 344.6,479.4 344.6,479.4 344.7,479.4 344.8,481 344.9,479.7 345,480.2 345,479.6 345.1,479.5 345.2,478.4 345.3,480.7 345.4,480.7 345.4,480.1 345.5,480 345.6,478.6 345.7,480.3 345.8,481.1 345.8,480.9 345.9,479.3 346,480.5 346.1,478.9 346.2,478.8 346.2,479.3 346.3,479.4 346.4,481.4 346.5,481 346.6,480.2 346.6,479.7 346.7,480.7 346.8,481.2 346.9,479.1 347,480.3 347,480.6 347.1,480.3 347.2,479.8 347.3,478.9 347.4,480.6 347.4,478.7 347.5,480.7 347.6,478.6 347.7,479 347.8,479.5 347.8,480.6 347.9,481.5 348,479 348.1,480.7 348.2,480.1 348.2,481.3 348.3,481.1 348.4,480 348.5,478.6 348.6,480.1 348.6,480.6 348.7,480.4 348.8,480.5 348.9,479.8 349,480 349,479.2 349.1,481.3 349.2,479.9 349.3,480 349.4,480.8 349.4,480.1 349.5,478.6 349.6,479.3 349.7,481.4 349.8,479.7 349.8,480.6 349.9,481.5 350,480.1 350.1,480 350.2,479.7 350.2,479.9 350.3,479.3 350.4,479.6 350.5,480.3 350.6,479.6 350.6,479.6 350.7,479.5 350.8,479.8 350.9,480.2 351,480.7 351,479.4 351.1,479.4 351.2,478.6 351.3,481.4 351.4,481.7 351.4,481 351.5,480.5 351.6,479.6 351.7,479.8 351.8,481.1 351.8,481.1 351.9,480.5 352,481.4 352.1,480.5 352.2,480 352.2,480.8 352.3,480.8 352.4,479.8 352.5,479.9 352.6,481.1 352.6,480 352.7,478.9 352.8,479.1 352.9,479.9 353,481.2 353,481.2 353.1,479.6 353.2,479.1 353.3,479.5 353.4,478.6 353.4,481.5 353.5,479.1 353.6,479.3 353.7,481.3 353.8,478.9 353.8,481.5 353.9,479.2 354,480.3 354.1,479.9 354.2,479.1 354.2,480.3 354.3,480 354.4,479.5 354.5,479.7 354.6,480.4 354.6,479.7 354.7,479.6 354.8,479.7 354.9,480.7 355,479.4 355,480.3 355.1,479.7 355.2,480.2 355.3,479.4 355.4,478.9 355.4,479 355.5,480 355.6,479 355.7,480.4 355.8,480.5 355.8,479.5 355.9,478.9 356,479.2 356.1,481.4 356.2,478.9 356.2,479.7 356.3,480 356.4,480 356.5,480.7 356.6,480.7 356.6,479.7 356.7,480.4 356.8,479.3 356.9,479.3 357,479.8 357,480.4 357.1,479.8 357.2,479.1 357.3,479.3 357.4,480.9 357.4,479.8 357.5,479.7 357.6,481.4 357.7,479.3 357.8,479.6 357.8,481 357.9,480.8 358,481.4 358.1,481.2 358.2,478.9 358.2,480.2 358.3,480.1 358.4,480.8 358.5,479.5 358.6,481.3 358.6,480.6 358.7,481.2 358.8,479.8 358.9,480.8 359,480.7 359,481.1 359.1,479.4 359.2,480.4 359.3,480.8 359.4,479.4 359.4,481.3 359.5,481.1 359.6,479.4 359.7,479.8 359.8,480 359.8,481.4 359.9,481.4 360,480.6 360.1,480.1 360.1,479.6 360.2,480.8 360.3,480.6 360.4,481.1 360.5,479.9 360.5,480.7 360.6,479.3 360.7,481.1 360.8,480.6 360.9,479.6 360.9,480.3 361,480.9 361.1,481.2 361.2,480.6 361.3,481 361.3,480.2 361.4,480.5 361.5,479.6 361.6,480.1 361.7,481.1 361.7,479.8 361.8,480.2 361.9,479.4 362,480.3 362.1,478.8 362.1,479.7 362.2,480.1 362.3,479.9 362.4,479.5 362.5,479.9 362.5,481.1 362.6,481.2 362.7,480.6 362.8,479.5 362.9,480.3 362.9,481 363,479.6 363.1,481.3 363.2,480.1 363.3,480.7 363.3,481 363.4,480.5 363.5,479.8 363.6,481.1 363.7,480.3 363.7,481.4 363.8,480.2 363.9,480 364,479.3 364.1,479.6 364.1,479.4 364.2,480.8 364.3,479.4 364.4,480.9 364.5,479.4 364.5,479.3 364.6,480.5 364.7,479.6 364.8,481.2 364.9,479.5 364.9,481 365,479.9 365.1,479.4 365.2,480.6 365.3,479.6 365.3,479.4 365.4,480.4 365.5,480.3 365.6,481.1 365.7,481.6 365.7,479.5 365.8,479.4 365.9,478.9 366,479.7 366.1,480.6 366.1,480.4 366.2,480.8 366.3,479.7 366.4,480.5 366.5,479.3 366.5,479.3 366.6,479.3 366.7,478.8 366.8,479.5 366.9,479.8 366.9,480.8 367,481.1 367.1,479.2 367.2,480.8 367.3,479.8 367.3,479.6 367.4,479.1 367.5,480.7 367.6,479.4 367.7,479.7 367.7,480.5 367.8,479.8 367.9,479.7 368,480 368.1,479.9 368.1,480.2 368.2,481.3 368.3,480.6 368.4,480 368.5,479.8 368.5,480.3 368.6,481.3 368.7,480.3 368.8,480.7 368.9,479.6 368.9,481.1 369,481 369.1,481 369.2,479.1 369.3,480.4 369.3,480.1 369.4,480.2 369.5,479.7 369.6,479.8 369.7,479 369.7,480.9 369.8,479.5 369.9,481.2 370,480.9 370.1,479.2 370.1,480.1 370.2,480 370.3,481.2 370.4,479.2 370.5,480.8 370.5,479.9 370.6,480.4 370.7,481.2 370.8,479.4 370.9,479.6 370.9,480.1 371,480.1 371.1,480.8 371.2,479.2 371.3,479 371.3,479.6 371.4,480.8 371.5,479.1 371.6,480.2 371.7,480.3 371.7,479.1 371.8,481.2 371.9,480.9 372,479.3 372.1,480.4 372.1,479 372.2,481.2 372.3,480.6 372.4,480.6 372.5,479.8 372.5,481.1 372.6,479.9 372.7,480.1 372.8,480.4 372.9,479.4 372.9,480.2 373,480.2 373.1,480.2 373.2,480.1 373.3,481.4 373.3,478.8 373.4,481.3 373.5,480.6 373.6,479.7 373.7,479.3 373.7,481.5 373.8,480.6 373.9,479.4 374,481 374.1,479.1 374.1,479.8 374.2,479.5 374.3,480.5 374.4,480 374.5,479.9 374.5,481 374.6,479.8 374.7,480.2 374.8,480.5 374.9,480.4 374.9,479.7 375,480.8 375.1,480.3 375.2,481.6 375.3,481.2 375.3,480.5 375.4,480.8 375.5,481.1 375.6,481.3 375.7,480.8 375.7,481 375.8,481 375.9,480.7 376,479.1 376.1,479.5 376.1,480.3 376.2,481.5 376.3,479.1 376.4,480.3 376.5,480 376.5,481.2 376.6,480.9 376.7,481.2 376.8,481 376.9,481.1 376.9,479.9 377,480.5 377.1,480.7 377.2,480.7 377.3,480.2 377.3,479 377.4,480.9 377.5,479.5 377.6,480.3 377.7,479.5 377.7,480.3 377.8,480 377.9,479.8 378,479.3 378.1,480.2 378.1,480.9 378.2,480.1 378.3,479.6 378.4,480.3 378.5,480 378.5,480.6 378.6,479.1 378.7,480.7 378.8,480.9 378.9,479.5 378.9,479.4 379,480.4 379.1,479.7 379.2,481.1 379.3,479.1 379.3,480.2 379.4,480.9 379.5,480 379.6,479.9 379.7,479.7 379.7,481.1 379.8,480.8 379.9,479.1 380,480.2 380.1,481.3 380.1,479.8 380.2,480.9 380.3,480.6 380.4,480.5 380.5,481 380.5,479.7 380.6,480.2 380.7,480.4 380.8,479.1 380.9,479.6 380.9,479.7 381,481.1 381.1,480.6 381.2,479.6 381.2,479.4 381.3,480.3 381.4,481.1 381.5,480.9 381.6,479.3 381.6,479.8 381.7,479.4 381.8,479.1 381.9,479.9 382,480.5 382,479.2 382.1,480.2 382.2,480.7 382.3,480.6 382.4,479.1 382.4,479.8 382.5,480.9 382.6,479.5 382.7,479.6 382.8,480.9 382.8,480.2 382.9,479.2 383,480.1 383.1,480 383.2,479.3 383.2,479.1 383.3,480.2 383.4,480 383.5,480.1 383.6,480.9 383.6,480.4 383.7,479.1 383.8,480.2 383.9,478.9 384,480 384,480.6 384.1,480.6 384.2,480.7 384.3,480.2 384.4,480.1 384.4,480.2 384.5,480.1 384.6,480.5 384.7,480.6 384.8,479.7 384.8,480.3 384.9,480 385,480.1 385.1,479.6 385.2,479.9 385.2,479.2 385.3,479.8 385.4,480.8 385.5,480.8 385.6,480.6 385.6,480.1 385.7,479.3 385.8,481.2 385.9,479.1 386,481 386,480.5 386.1,479.7 386.2,480.4 386.3,481.3 386.4,480.7 386.4,480.1 386.5,480.4 386.6,479.2 386.7,478.8 386.8,480.7 386.8,480.1 386.9,479.5 387,480.7 387.1,480.9 387.2,480.9 387.2,480.9 387.3,480 387.4,480.2 387.5,479.7 387.6,480.3 387.6,479.2 387.7,480.5 387.8,480.7 387.9,479.3 388,480.3 388,479.6 388.1,479.1 388.2,480.3 388.3,479.2 388.4,480.6 388.4,480.8 388.5,479.8 388.6,479.8 388.7,479.6 388.8,480.1 388.8,480.7 388.9,481 389,480.5 389.1,479.6 389.2,479.2 389.2,480.2 389.3,479.5 389.4,480.6 389.5,480.5 389.6,480.1 389.6,480.1 389.7,480.7 389.8,480.3 389.9,481.2 390,481.2 390,479.8 390.1,480.8 390.2,480.1 390.3,479.4 390.4,480.5 390.4,480.9 390.5,480.4 390.6,481.1 390.7,481.1 390.8,479.1 390.8,480.5 390.9,480.7 391,479.7 391.1,480 391.2,480.7 391.2,480.9 391.3,480.2 391.4,479.8 391.5,479.7 391.6,479.5 391.6,480.7 391.7,480.7 391.8,480" fill="none" stroke="#1f77b4" stroke-width="1" stroke-linejoin="round"/>
<line x1="182.4" y1="486.4" x2="182.4" y2="488.9" stroke="#111" stroke-width="0.8"/>
<text x="182.4" y="495.9" class="tk" text-anchor="middle">0</text>
<line x1="224.3" y1="486.4" x2="224.3" y2="488.9" stroke="#111" stroke-width="0.8"/>
<text x="224.3" y="495.9" class="tk" text-anchor="middle">10000</text>
<line x1="266.2" y1="486.4" x2="266.2" y2="488.9" stroke="#111" stroke-width="0.8"/>
<text x="266.2" y="495.9" class="tk" text-anchor="middle">20000</text>
<line x1="308" y1="486.4" x2="308" y2="488.9" stroke="#111" stroke-width="0.8"/>
<text x="308" y="495.9" class="tk" text-anchor="middle">30000</text>
<line x1="349.9" y1="486.4" x2="349.9" y2="488.9" stroke="#111" stroke-width="0.8"/>
<text x="349.9" y="495.9" class="tk" text-anchor="middle">40000</text>
<line x1="391.8" y1="486.4" x2="391.8" y2="488.9" stroke="#111" stroke-width="0.8"/>
<text x="391.8" y="495.9" class="tk" text-anchor="middle">50000</text>
<line x1="169.1" y1="486.4" x2="171.6" y2="486.4" stroke="#111" stroke-width="0.8"/>
<text x="168.6" y="488.6" class="tk" style="letter-spacing:1px" text-anchor="end">0.0</text>
<line x1="169.1" y1="456.6" x2="171.6" y2="456.6" stroke="#111" stroke-width="0.8"/>
<text x="168.6" y="458.8" class="tk" style="letter-spacing:1px" text-anchor="end">0.2</text>
<line x1="169.1" y1="426.9" x2="171.6" y2="426.9" stroke="#111" stroke-width="0.8"/>
<text x="168.6" y="429.1" class="tk" style="letter-spacing:1px" text-anchor="end">0.4</text>
<line x1="169.1" y1="397.1" x2="171.6" y2="397.1" stroke="#111" stroke-width="0.8"/>
<text x="168.6" y="399.3" class="tk" style="letter-spacing:1px" text-anchor="end">0.6</text>
<line x1="169.1" y1="367.4" x2="171.6" y2="367.4" stroke="#111" stroke-width="0.8"/>
<text x="168.6" y="369.6" class="tk" style="letter-spacing:1px" text-anchor="end">0.8</text>
<line x1="169.1" y1="337.6" x2="171.6" y2="337.6" stroke="#111" stroke-width="0.8"/>
<text x="168.6" y="339.8" class="tk" style="letter-spacing:1px" text-anchor="end">1.0</text>
<text x="286.5" y="506.7" class="lb" style="font-size:8px" text-anchor="middle">Epoch</text>
<text transform="translate(147.5,412) rotate(90)" class="lb" text-anchor="middle">MMD</text>
</g>
<g id="scatter">
<rect x="646.4" y="336" width="280.20000000000005" height="217.5" fill="#fff" stroke="#111" stroke-width="1"/>
<line x1="645.9" y1="336" x2="927.1" y2="336" stroke="#444" stroke-width="1.6"/>
<g fill="#cf1626" fill-opacity="0.42">
<circle cx="657.9" cy="477.2" r="2.2"/>
<circle cx="657.9" cy="476.9" r="2.2"/>
<circle cx="659.6" cy="469.4" r="2.2"/>
<circle cx="659.8" cy="469.3" r="2.2"/>
<circle cx="660.5" cy="462.5" r="2.2"/>
<circle cx="663.4" cy="456.9" r="2.2"/>
<circle cx="665.5" cy="450.1" r="2.2"/>
<circle cx="666" cy="449.9" r="2.2"/>
<circle cx="665.8" cy="449.6" r="2.2"/>
<circle cx="670.4" cy="437.6" r="2.2"/>
<circle cx="673.9" cy="428.2" r="2.2"/>
<circle cx="677.9" cy="428.3" r="2.2"/>
<circle cx="679.4" cy="420" r="2.2"/>
<circle cx="679.3" cy="420" r="2.2"/>
<circle cx="685.8" cy="418.9" r="2.2"/>
<circle cx="686" cy="418.9" r="2.2"/>
<circle cx="686.3" cy="418.6" r="2.2"/>
<circle cx="686.5" cy="413.3" r="2.2"/>
<circle cx="686.5" cy="413.2" r="2.2"/>
<circle cx="662.1" cy="492.1" r="2.2"/>
<circle cx="663.4" cy="483.2" r="2.2"/>
<circle cx="663.8" cy="483.3" r="2.2"/>
<circle cx="674.1" cy="494.2" r="2.2"/>
<circle cx="673.2" cy="503.5" r="2.2"/>
<circle cx="673" cy="503.6" r="2.2"/>
<circle cx="683.7" cy="501.3" r="2.2"/>
<circle cx="684.2" cy="501.5" r="2.2"/>
<circle cx="688.5" cy="507.5" r="2.2"/>
<circle cx="689.3" cy="518.9" r="2.2"/>
<circle cx="707" cy="508.1" r="2.2"/>
<circle cx="709.1" cy="519.7" r="2.2"/>
<circle cx="709.1" cy="519.7" r="2.2"/>
<circle cx="688.4" cy="489.8" r="2.2"/>
<circle cx="703.8" cy="408.4" r="2.2"/>
<circle cx="708.9" cy="401.8" r="2.2"/>
<circle cx="708.8" cy="401.5" r="2.2"/>
<circle cx="714.1" cy="398.9" r="2.2"/>
<circle cx="714.3" cy="399" r="2.2"/>
<circle cx="714.1" cy="404" r="2.2"/>
<circle cx="714.5" cy="403.9" r="2.2"/>
<circle cx="719.2" cy="402.2" r="2.2"/>
<circle cx="724.5" cy="404.4" r="2.2"/>
<circle cx="727.7" cy="401.2" r="2.2"/>
<circle cx="727.8" cy="401" r="2.2"/>
<circle cx="734.1" cy="402.8" r="2.2"/>
<circle cx="734.6" cy="403.2" r="2.2"/>
<circle cx="741.9" cy="400.4" r="2.2"/>
<circle cx="749.5" cy="394.8" r="2.2"/>
<circle cx="749.5" cy="395.2" r="2.2"/>
<circle cx="749.3" cy="394.9" r="2.2"/>
<circle cx="755.5" cy="391.1" r="2.2"/>
<circle cx="758" cy="401.7" r="2.2"/>
<circle cx="758" cy="401.7" r="2.2"/>
<circle cx="761.1" cy="382.2" r="2.2"/>
<circle cx="761.4" cy="382.4" r="2.2"/>
<circle cx="763.4" cy="386.7" r="2.2"/>
<circle cx="765.1" cy="371.6" r="2.2"/>
<circle cx="765.3" cy="371.6" r="2.2"/>
<circle cx="767.4" cy="365.7" r="2.2"/>
<circle cx="769.8" cy="361.1" r="2.2"/>
<circle cx="772.5" cy="355.6" r="2.2"/>
<circle cx="772.2" cy="355.1" r="2.2"/>
<circle cx="774.8" cy="370.3" r="2.2"/>
<circle cx="774.7" cy="370.3" r="2.2"/>
<circle cx="777.6" cy="360.1" r="2.2"/>
<circle cx="779.3" cy="353.4" r="2.2"/>
<circle cx="779.3" cy="353" r="2.2"/>
<circle cx="780.3" cy="352.1" r="2.2"/>
<circle cx="780.4" cy="352.1" r="2.2"/>
<circle cx="780.3" cy="352.3" r="2.2"/>
<circle cx="801.5" cy="352.6" r="2.2"/>
<circle cx="801.5" cy="352.5" r="2.2"/>
<circle cx="802.2" cy="351.6" r="2.2"/>
<circle cx="802.5" cy="351.7" r="2.2"/>
<circle cx="796.3" cy="389.3" r="2.2"/>
<circle cx="796" cy="389.3" r="2.2"/>
<circle cx="790.9" cy="404.6" r="2.2"/>
<circle cx="791" cy="404.3" r="2.2"/>
<circle cx="791" cy="404.8" r="2.2"/>
<circle cx="762.8" cy="394" r="2.2"/>
<circle cx="762.8" cy="394.1" r="2.2"/>
<circle cx="765.6" cy="398" r="2.2"/>
<circle cx="765.6" cy="398" r="2.2"/>
<circle cx="770.2" cy="400" r="2.2"/>
<circle cx="769.9" cy="400.2" r="2.2"/>
<circle cx="774.7" cy="403.1" r="2.2"/>
<circle cx="774.6" cy="403.3" r="2.2"/>
<circle cx="777.4" cy="406.1" r="2.2"/>
<circle cx="777.4" cy="405.8" r="2.2"/>
<circle cx="780.6" cy="408.1" r="2.2"/>
<circle cx="780.8" cy="408" r="2.2"/>
<circle cx="783.4" cy="410" r="2.2"/>
<circle cx="783.7" cy="410" r="2.2"/>
<circle cx="783.3" cy="409.7" r="2.2"/>
<circle cx="779.1" cy="406.8" r="2.2"/>
<circle cx="781.8" cy="408.9" r="2.2"/>
<circle cx="775.7" cy="402.7" r="2.2"/>
<circle cx="777.5" cy="403.9" r="2.2"/>
<circle cx="777.3" cy="404.4" r="2.2"/>
<circle cx="779" cy="405.6" r="2.2"/>
<circle cx="779.1" cy="405.7" r="2.2"/>
<circle cx="780.8" cy="407" r="2.2"/>
<circle cx="780.5" cy="407.5" r="2.2"/>
<circle cx="782.6" cy="408.6" r="2.2"/>
<circle cx="784.1" cy="410.4" r="2.2"/>
<circle cx="784" cy="410" r="2.2"/>
<circle cx="795.7" cy="389.7" r="2.2"/>
<circle cx="795.8" cy="389.7" r="2.2"/>
<circle cx="791" cy="405" r="2.2"/>
<circle cx="801.7" cy="352.1" r="2.2"/>
<circle cx="801.6" cy="352.6" r="2.2"/>
<circle cx="801.1" cy="352.5" r="2.2"/>
<circle cx="780" cy="353.5" r="2.2"/>
</g>
<g fill="#0a0af0" fill-opacity="0.42">
<circle cx="668" cy="471.4" r="2.2"/>
<circle cx="667.7" cy="471.5" r="2.2"/>
<circle cx="668.4" cy="476.1" r="2.2"/>
<circle cx="668.5" cy="475.8" r="2.2"/>
<circle cx="668.4" cy="476.2" r="2.2"/>
<circle cx="669.4" cy="482.3" r="2.2"/>
<circle cx="673.2" cy="459.6" r="2.2"/>
<circle cx="673" cy="459.9" r="2.2"/>
<circle cx="672.9" cy="459.7" r="2.2"/>
<circle cx="679.4" cy="450.9" r="2.2"/>
<circle cx="679.4" cy="450.7" r="2.2"/>
<circle cx="679.3" cy="450.5" r="2.2"/>
<circle cx="680.3" cy="453.9" r="2.2"/>
<circle cx="680.3" cy="453.5" r="2.2"/>
<circle cx="679.9" cy="453.6" r="2.2"/>
<circle cx="688.4" cy="444.8" r="2.2"/>
<circle cx="691" cy="442.8" r="2.2"/>
<circle cx="690.8" cy="442.7" r="2.2"/>
<circle cx="694" cy="438.8" r="2.2"/>
<circle cx="697.1" cy="440.6" r="2.2"/>
<circle cx="697.2" cy="440.6" r="2.2"/>
<circle cx="697.8" cy="432.7" r="2.2"/>
<circle cx="704.5" cy="427.2" r="2.2"/>
<circle cx="708.1" cy="428.5" r="2.2"/>
<circle cx="708.1" cy="428.6" r="2.2"/>
<circle cx="708.1" cy="428.5" r="2.2"/>
<circle cx="709.8" cy="422.4" r="2.2"/>
<circle cx="716.5" cy="417.7" r="2.2"/>
<circle cx="716.4" cy="418.2" r="2.2"/>
<circle cx="716.3" cy="418" r="2.2"/>
<circle cx="710.9" cy="427.1" r="2.2"/>
<circle cx="711.4" cy="426.9" r="2.2"/>
<circle cx="683.1" cy="490" r="2.2"/>
<circle cx="682.8" cy="489.8" r="2.2"/>
<circle cx="690.8" cy="494.8" r="2.2"/>
<circle cx="691.1" cy="494.5" r="2.2"/>
<circle cx="697.7" cy="493.1" r="2.2"/>
<circle cx="697.8" cy="493.6" r="2.2"/>
<circle cx="703" cy="492.1" r="2.2"/>
<circle cx="703.3" cy="491.7" r="2.2"/>
<circle cx="704.5" cy="492.3" r="2.2"/>
<circle cx="704.8" cy="492.7" r="2.2"/>
<circle cx="714.1" cy="487.7" r="2.2"/>
<circle cx="714" cy="487.7" r="2.2"/>
<circle cx="714.7" cy="485.8" r="2.2"/>
<circle cx="714.7" cy="485.4" r="2.2"/>
<circle cx="716.1" cy="489.3" r="2.2"/>
<circle cx="720.8" cy="490.1" r="2.2"/>
<circle cx="720.7" cy="490.2" r="2.2"/>
<circle cx="720.7" cy="490.1" r="2.2"/>
<circle cx="735" cy="408.2" r="2.2"/>
<circle cx="735.1" cy="407.8" r="2.2"/>
<circle cx="735.2" cy="415" r="2.2"/>
<circle cx="735" cy="414.8" r="2.2"/>
<circle cx="735.3" cy="415" r="2.2"/>
<circle cx="751.1" cy="414.1" r="2.2"/>
<circle cx="751.4" cy="413.8" r="2.2"/>
<circle cx="775.2" cy="408.9" r="2.2"/>
<circle cx="775" cy="409" r="2.2"/>
<circle cx="775.4" cy="408.8" r="2.2"/>
<circle cx="777.8" cy="396" r="2.2"/>
<circle cx="781.8" cy="394.7" r="2.2"/>
<circle cx="786.8" cy="416.6" r="2.2"/>
<circle cx="787" cy="416.6" r="2.2"/>
<circle cx="789.3" cy="410.6" r="2.2"/>
<circle cx="790.7" cy="411.1" r="2.2"/>
<circle cx="785.2" cy="402.7" r="2.2"/>
<circle cx="784.8" cy="402.4" r="2.2"/>
<circle cx="783.5" cy="367.4" r="2.2"/>
<circle cx="783.3" cy="367" r="2.2"/>
<circle cx="790.7" cy="365.9" r="2.2"/>
<circle cx="796" cy="371.8" r="2.2"/>
<circle cx="795.8" cy="371.5" r="2.2"/>
<circle cx="797.3" cy="372.4" r="2.2"/>
<circle cx="794.2" cy="381.9" r="2.2"/>
<circle cx="793.7" cy="382.4" r="2.2"/>
<circle cx="799.6" cy="381.9" r="2.2"/>
<circle cx="799.8" cy="382.1" r="2.2"/>
<circle cx="798.4" cy="377.2" r="2.2"/>
<circle cx="798.1" cy="377.2" r="2.2"/>
<circle cx="775.3" cy="379.2" r="2.2"/>
<circle cx="779" cy="369" r="2.2"/>
<circle cx="779.1" cy="368.5" r="2.2"/>
<circle cx="779.2" cy="368.6" r="2.2"/>
<circle cx="786.7" cy="413.6" r="2.2"/>
<circle cx="778.7" cy="401.6" r="2.2"/>
<circle cx="778.2" cy="401.6" r="2.2"/>
<circle cx="778.3" cy="401.7" r="2.2"/>
<circle cx="775.3" cy="402.2" r="2.2"/>
<circle cx="775.2" cy="402.3" r="2.2"/>
<circle cx="776.6" cy="403.7" r="2.2"/>
<circle cx="776.8" cy="403.7" r="2.2"/>
<circle cx="778.7" cy="405.5" r="2.2"/>
<circle cx="778.7" cy="405.3" r="2.2"/>
<circle cx="780.1" cy="406.7" r="2.2"/>
<circle cx="780.5" cy="407.3" r="2.2"/>
<circle cx="781.7" cy="408.6" r="2.2"/>
<circle cx="782.3" cy="408.6" r="2.2"/>
<circle cx="783.8" cy="410.5" r="2.2"/>
<circle cx="796.2" cy="371.7" r="2.2"/>
<circle cx="796.4" cy="371.5" r="2.2"/>
<circle cx="797.5" cy="372.8" r="2.2"/>
<circle cx="796.2" cy="381.3" r="2.2"/>
<circle cx="776.3" cy="395.9" r="2.2"/>
<circle cx="779.2" cy="395.6" r="2.2"/>
<circle cx="790.1" cy="411" r="2.2"/>
<circle cx="786.9" cy="416" r="2.2"/>
<circle cx="787.1" cy="416" r="2.2"/>
<circle cx="791.3" cy="411.8" r="2.2"/>
<circle cx="779.1" cy="387.8" r="2.2"/>
</g>
<g fill="#0a7d1e" fill-opacity="0.45">
<circle cx="679.1" cy="456.9" r="2.2"/>
<circle cx="680.7" cy="463.3" r="2.2"/>
<circle cx="680.7" cy="463.6" r="2.2"/>
<circle cx="682.1" cy="444.2" r="2.2"/>
<circle cx="686.6" cy="440.3" r="2.2"/>
<circle cx="686.6" cy="440.2" r="2.2"/>
<circle cx="689.5" cy="432.2" r="2.2"/>
<circle cx="689.7" cy="432.1" r="2.2"/>
<circle cx="689.3" cy="432.1" r="2.2"/>
<circle cx="692.9" cy="429.6" r="2.2"/>
<circle cx="693.3" cy="429.8" r="2.2"/>
<circle cx="695.7" cy="426.6" r="2.2"/>
<circle cx="695.9" cy="427.1" r="2.2"/>
<circle cx="698.7" cy="425.2" r="2.2"/>
<circle cx="700.9" cy="422.1" r="2.2"/>
<circle cx="700.8" cy="421.8" r="2.2"/>
<circle cx="701.2" cy="421.9" r="2.2"/>
<circle cx="705.8" cy="417.3" r="2.2"/>
<circle cx="705.9" cy="417.2" r="2.2"/>
<circle cx="691.2" cy="468.6" r="2.2"/>
<circle cx="696.4" cy="471.5" r="2.2"/>
<circle cx="704.3" cy="468.6" r="2.2"/>
<circle cx="712.8" cy="465.7" r="2.2"/>
<circle cx="712.9" cy="465.7" r="2.2"/>
<circle cx="712.8" cy="465.8" r="2.2"/>
<circle cx="715.2" cy="465.2" r="2.2"/>
<circle cx="716.4" cy="464.7" r="2.2"/>
<circle cx="722.6" cy="465.1" r="2.2"/>
<circle cx="722.3" cy="464.9" r="2.2"/>
<circle cx="714.2" cy="465.7" r="2.2"/>
<circle cx="713.9" cy="465.5" r="2.2"/>
<circle cx="713.9" cy="465.9" r="2.2"/>
<circle cx="716.1" cy="464.4" r="2.2"/>
<circle cx="716.1" cy="463.9" r="2.2"/>
<circle cx="710.8" cy="411.8" r="2.2"/>
<circle cx="717.4" cy="407.9" r="2.2"/>
<circle cx="733.6" cy="409.1" r="2.2"/>
<circle cx="734" cy="408.8" r="2.2"/>
<circle cx="744.8" cy="407.4" r="2.2"/>
<circle cx="755.1" cy="406.8" r="2.2"/>
<circle cx="755.2" cy="406.7" r="2.2"/>
<circle cx="761.3" cy="404.5" r="2.2"/>
<circle cx="765.8" cy="403.2" r="2.2"/>
<circle cx="765.6" cy="403.2" r="2.2"/>
<circle cx="768.8" cy="404.4" r="2.2"/>
<circle cx="768.7" cy="404.8" r="2.2"/>
<circle cx="770" cy="395.7" r="2.2"/>
<circle cx="770.3" cy="395.4" r="2.2"/>
<circle cx="763.5" cy="394.7" r="2.2"/>
<circle cx="763.8" cy="394.7" r="2.2"/>
<circle cx="763.3" cy="395" r="2.2"/>
<circle cx="765.8" cy="385.1" r="2.2"/>
<circle cx="765.8" cy="384.8" r="2.2"/>
<circle cx="766.9" cy="376.3" r="2.2"/>
<circle cx="766.9" cy="376.1" r="2.2"/>
<circle cx="773.2" cy="387.1" r="2.2"/>
<circle cx="773.3" cy="387.1" r="2.2"/>
<circle cx="773.2" cy="387.1" r="2.2"/>
<circle cx="778" cy="383.6" r="2.2"/>
<circle cx="779.3" cy="378" r="2.2"/>
<circle cx="779.3" cy="377.7" r="2.2"/>
<circle cx="779" cy="374.5" r="2.2"/>
<circle cx="779.3" cy="374.8" r="2.2"/>
<circle cx="777.4" cy="379.1" r="2.2"/>
<circle cx="777.5" cy="379.1" r="2.2"/>
<circle cx="780" cy="380.8" r="2.2"/>
<circle cx="780.1" cy="380.6" r="2.2"/>
<circle cx="767.1" cy="401.7" r="2.2"/>
<circle cx="767.1" cy="401.3" r="2.2"/>
<circle cx="766.2" cy="376.7" r="2.2"/>
<circle cx="765.7" cy="376.9" r="2.2"/>
<circle cx="767.5" cy="375.9" r="2.2"/>
<circle cx="767.5" cy="376.2" r="2.2"/>
<circle cx="778.8" cy="375.2" r="2.2"/>
<circle cx="779.2" cy="374.9" r="2.2"/>
<circle cx="779.8" cy="378.4" r="2.2"/>
<circle cx="778.8" cy="382.2" r="2.2"/>
<circle cx="778.8" cy="382.2" r="2.2"/>
<circle cx="780.7" cy="383.1" r="2.2"/>
<circle cx="780.8" cy="383.2" r="2.2"/>
<circle cx="780.7" cy="382.9" r="2.2"/>
<circle cx="778.1" cy="378" r="2.2"/>
<circle cx="778.3" cy="377.7" r="2.2"/>
<circle cx="763.1" cy="387" r="2.2"/>
<circle cx="762.9" cy="387" r="2.2"/>
<circle cx="764.2" cy="391.4" r="2.2"/>
<circle cx="764.2" cy="391.4" r="2.2"/>
<circle cx="764.2" cy="391.7" r="2.2"/>
<circle cx="765.7" cy="395.3" r="2.2"/>
<circle cx="767.7" cy="402.9" r="2.2"/>
<circle cx="770.2" cy="404.5" r="2.2"/>
<circle cx="771.1" cy="405.4" r="2.2"/>
<circle cx="771" cy="405.5" r="2.2"/>
<circle cx="771.1" cy="405.8" r="2.2"/>
<circle cx="769.5" cy="402.2" r="2.2"/>
<circle cx="767" cy="404.3" r="2.2"/>
<circle cx="766.7" cy="403.9" r="2.2"/>
<circle cx="773.5" cy="387.3" r="2.2"/>
<circle cx="774" cy="387.2" r="2.2"/>
<circle cx="770.7" cy="395.8" r="2.2"/>
</g>
<g fill="#ee0808" fill-opacity="0.7">
<circle cx="885.2" cy="352.3" r="2.2"/>
<circle cx="887.9" cy="352.4" r="2.2"/>
<circle cx="884.4" cy="353.6" r="2.2"/>
<circle cx="882.8" cy="352" r="2.2"/>
<circle cx="883.4" cy="352" r="2.2"/>
<circle cx="887.6" cy="351.2" r="2.2"/>
<circle cx="883.6" cy="353.4" r="2.2"/>
<circle cx="883.8" cy="351.2" r="2.2"/>
<circle cx="885.4" cy="352.7" r="2.2"/>
<circle cx="883.1" cy="352.1" r="2.2"/>
<circle cx="884.7" cy="354.8" r="2.2"/>
<circle cx="885.4" cy="350.5" r="2.2"/>
<circle cx="889" cy="354" r="2.2"/>
<circle cx="887.3" cy="351.1" r="2.2"/>
<circle cx="889.8" cy="352.2" r="2.2"/>
<circle cx="887.1" cy="351.1" r="2.2"/>
<circle cx="884.4" cy="351.3" r="2.2"/>
<circle cx="885.1" cy="352.5" r="2.2"/>
<circle cx="885.6" cy="351.4" r="2.2"/>
<circle cx="884.3" cy="352.4" r="2.2"/>
<circle cx="884.9" cy="351.4" r="2.2"/>
<circle cx="885.7" cy="352.7" r="2.2"/>
<circle cx="887.3" cy="353.6" r="2.2"/>
<circle cx="884.4" cy="353.6" r="2.2"/>
<circle cx="888.2" cy="352.8" r="2.2"/>
<circle cx="886.7" cy="351.3" r="2.2"/>
<circle cx="908.5" cy="361.8" r="2.2"/>
<circle cx="909.1" cy="363.4" r="2.2"/>
<circle cx="909.9" cy="362.8" r="2.2"/>
<circle cx="906.5" cy="366.9" r="2.2"/>
<circle cx="908.4" cy="364.2" r="2.2"/>
<circle cx="908.9" cy="364.1" r="2.2"/>
<circle cx="909" cy="363.1" r="2.2"/>
<circle cx="906.7" cy="366.4" r="2.2"/>
<circle cx="907.3" cy="366.4" r="2.2"/>
<circle cx="906.7" cy="366.7" r="2.2"/>
<circle cx="908.1" cy="365.9" r="2.2"/>
<circle cx="908.4" cy="366.4" r="2.2"/>
<circle cx="908.5" cy="362.1" r="2.2"/>
<circle cx="909.7" cy="360" r="2.2"/>
<circle cx="907.5" cy="368.9" r="2.2"/>
<circle cx="906.7" cy="368.6" r="2.2"/>
<circle cx="907" cy="367" r="2.2"/>
<circle cx="909.1" cy="360.6" r="2.2"/>
<circle cx="907.2" cy="367" r="2.2"/>
<circle cx="909.5" cy="363.5" r="2.2"/>
<circle cx="878.2" cy="358.5" r="2.2"/>
<circle cx="879.5" cy="359.8" r="2.2"/>
<circle cx="879.3" cy="360" r="2.2"/>
<circle cx="878.5" cy="358.9" r="2.2"/>
<circle cx="913.8" cy="364.8" r="2.2"/>
<circle cx="913.1" cy="364" r="2.2"/>
<circle cx="825.2" cy="514.7" r="2.2"/>
<circle cx="824.9" cy="515.2" r="2.2"/>
<circle cx="808.3" cy="520.2" r="2.2"/>
<circle cx="808.8" cy="519.7" r="2.2"/>
</g>
<g fill="#050505" fill-opacity="0.95">
<circle cx="879.3" cy="373.8" r="2.2"/>
<circle cx="878.7" cy="371.8" r="2.2"/>
<circle cx="882.2" cy="374.9" r="2.2"/>
<circle cx="882.6" cy="374.1" r="2.2"/>
<circle cx="877.3" cy="371.6" r="2.2"/>
<circle cx="880.3" cy="373.4" r="2.2"/>
<circle cx="876.6" cy="372.1" r="2.2"/>
<circle cx="877.2" cy="371.7" r="2.2"/>
<circle cx="882.7" cy="373.9" r="2.2"/>
<circle cx="878.4" cy="372.7" r="2.2"/>
<circle cx="878.2" cy="371.9" r="2.2"/>
<circle cx="878.8" cy="373.2" r="2.2"/>
<circle cx="878.9" cy="372.6" r="2.2"/>
<circle cx="875.9" cy="371.6" r="2.2"/>
<circle cx="876.2" cy="370.9" r="2.2"/>
<circle cx="883.4" cy="374.7" r="2.2"/>
<circle cx="892.2" cy="384.2" r="2.2"/>
<circle cx="893.3" cy="384.8" r="2.2"/>
<circle cx="894.8" cy="388.5" r="2.2"/>
<circle cx="893.8" cy="386.2" r="2.2"/>
<circle cx="891.2" cy="387.8" r="2.2"/>
<circle cx="893.8" cy="393.4" r="2.2"/>
<circle cx="894.3" cy="392" r="2.2"/>
<circle cx="893.3" cy="384" r="2.2"/>
<circle cx="895.5" cy="390.3" r="2.2"/>
<circle cx="893.4" cy="389.2" r="2.2"/>
<circle cx="894.1" cy="389" r="2.2"/>
<circle cx="893.7" cy="386.4" r="2.2"/>
<circle cx="893.4" cy="390.7" r="2.2"/>
<circle cx="893.4" cy="389.4" r="2.2"/>
<circle cx="895" cy="389.4" r="2.2"/>
<circle cx="893.6" cy="392.8" r="2.2"/>
<circle cx="894.5" cy="386.9" r="2.2"/>
<circle cx="894.4" cy="392.7" r="2.2"/>
<circle cx="893" cy="387.1" r="2.2"/>
<circle cx="892.5" cy="390.8" r="2.2"/>
<circle cx="894.3" cy="390.1" r="2.2"/>
<circle cx="893.9" cy="392.9" r="2.2"/>
<circle cx="826.9" cy="526.8" r="2.2"/>
<circle cx="833.2" cy="516.6" r="2.2"/>
<circle cx="830.5" cy="521.6" r="2.2"/>
<circle cx="834.3" cy="514.9" r="2.2"/>
<circle cx="836.4" cy="512.3" r="2.2"/>
<circle cx="820.6" cy="538.8" r="2.2"/>
<circle cx="824.9" cy="531.6" r="2.2"/>
<circle cx="837.5" cy="510.2" r="2.2"/>
<circle cx="833.9" cy="515.5" r="2.2"/>
<circle cx="831" cy="521.3" r="2.2"/>
<circle cx="822" cy="537.4" r="2.2"/>
<circle cx="819.3" cy="540.4" r="2.2"/>
<circle cx="827.6" cy="526.3" r="2.2"/>
<circle cx="826.5" cy="528.9" r="2.2"/>
<circle cx="835" cy="513.4" r="2.2"/>
<circle cx="833.5" cy="515.8" r="2.2"/>
<circle cx="823.9" cy="532.4" r="2.2"/>
<circle cx="827.4" cy="525.8" r="2.2"/>
<circle cx="828.3" cy="525.6" r="2.2"/>
<circle cx="823.7" cy="531.4" r="2.2"/>
<circle cx="821.2" cy="535.6" r="2.2"/>
<circle cx="824.8" cy="531.5" r="2.2"/>
<circle cx="818.9" cy="541.1" r="2.2"/>
<circle cx="826.6" cy="528.5" r="2.2"/>
<circle cx="837" cy="509.2" r="2.2"/>
<circle cx="834.5" cy="513.7" r="2.2"/>
<circle cx="817.8" cy="542.5" r="2.2"/>
<circle cx="825.6" cy="529.7" r="2.2"/>
<circle cx="819.5" cy="541" r="2.2"/>
<circle cx="828.6" cy="524" r="2.2"/>
<circle cx="826.3" cy="529.1" r="2.2"/>
<circle cx="819.8" cy="539.5" r="2.2"/>
<circle cx="829.4" cy="521.9" r="2.2"/>
<circle cx="819.6" cy="538.7" r="2.2"/>
<circle cx="837.5" cy="508.5" r="2.2"/>
<circle cx="833.8" cy="517" r="2.2"/>
<circle cx="831.5" cy="520" r="2.2"/>
<circle cx="823.9" cy="533.7" r="2.2"/>
<circle cx="835.7" cy="511.8" r="2.2"/>
<circle cx="822.5" cy="534.3" r="2.2"/>
<circle cx="839.6" cy="503.8" r="2.2"/>
<circle cx="841.1" cy="500.3" r="2.2"/>
<circle cx="844.6" cy="493.4" r="2.2"/>
<circle cx="847.6" cy="486.4" r="2.2"/>
<circle cx="849.1" cy="483.4" r="2.2"/>
<circle cx="851.6" cy="481.1" r="2.2"/>
<circle cx="854.6" cy="481.7" r="2.2"/>
<circle cx="857" cy="483.4" r="2.2"/>
<circle cx="859.5" cy="485.7" r="2.2"/>
<circle cx="861.3" cy="487.9" r="2.2"/>
<circle cx="850.1" cy="482.1" r="2.2"/>
<circle cx="853.1" cy="481.1" r="2.2"/>
<circle cx="858.3" cy="484.5" r="2.2"/>
<circle cx="806.9" cy="511.9" r="2.2"/>
<circle cx="808.3" cy="512.4" r="2.2"/>
<circle cx="807.7" cy="512.1" r="2.2"/>
<circle cx="809" cy="512" r="2.2"/>
<circle cx="807.8" cy="512.1" r="2.2"/>
<circle cx="808.6" cy="513.4" r="2.2"/>
</g>
<g fill="#0c0cf2" fill-opacity="0.62">
<circle cx="889.7" cy="373.6" r="2.2"/>
<circle cx="895.6" cy="367.6" r="2.2"/>
<circle cx="897.2" cy="359.8" r="2.2"/>
<circle cx="895.3" cy="370.5" r="2.2"/>
<circle cx="892.1" cy="364.8" r="2.2"/>
<circle cx="892.6" cy="359.7" r="2.2"/>
<circle cx="891.9" cy="370.6" r="2.2"/>
<circle cx="891" cy="372.1" r="2.2"/>
<circle cx="890" cy="363" r="2.2"/>
<circle cx="893" cy="360.3" r="2.2"/>
<circle cx="888.7" cy="362.1" r="2.2"/>
<circle cx="893.1" cy="366.1" r="2.2"/>
<circle cx="891.4" cy="370.6" r="2.2"/>
<circle cx="890.1" cy="370.1" r="2.2"/>
<circle cx="895.5" cy="360.7" r="2.2"/>
<circle cx="893.8" cy="363" r="2.2"/>
<circle cx="896.2" cy="364.8" r="2.2"/>
<circle cx="889.9" cy="365.6" r="2.2"/>
<circle cx="889" cy="364.3" r="2.2"/>
<circle cx="892.3" cy="365.9" r="2.2"/>
<circle cx="892.9" cy="370.4" r="2.2"/>
<circle cx="893.1" cy="363" r="2.2"/>
<circle cx="894.7" cy="361.8" r="2.2"/>
<circle cx="894" cy="368.9" r="2.2"/>
<circle cx="892.1" cy="367.2" r="2.2"/>
<circle cx="894.2" cy="360.5" r="2.2"/>
<circle cx="891.1" cy="371.4" r="2.2"/>
<circle cx="892.6" cy="360.8" r="2.2"/>
<circle cx="894.5" cy="368.3" r="2.2"/>
<circle cx="889.5" cy="367.5" r="2.2"/>
<circle cx="891.1" cy="361.2" r="2.2"/>
<circle cx="890.2" cy="372.5" r="2.2"/>
<circle cx="894.2" cy="372.6" r="2.2"/>
<circle cx="895.4" cy="365.3" r="2.2"/>
<circle cx="898.8" cy="361.2" r="2.2"/>
<circle cx="896.8" cy="358.8" r="2.2"/>
<circle cx="893.1" cy="358.8" r="2.2"/>
<circle cx="892.7" cy="360.2" r="2.2"/>
<circle cx="896" cy="359.6" r="2.2"/>
<circle cx="895.5" cy="360.1" r="2.2"/>
<circle cx="893.4" cy="365.5" r="2.2"/>
<circle cx="894.8" cy="367.1" r="2.2"/>
<circle cx="890.1" cy="371.9" r="2.2"/>
<circle cx="893.8" cy="356.4" r="2.2"/>
<circle cx="895.6" cy="357.3" r="2.2"/>
<circle cx="893.7" cy="371.5" r="2.2"/>
<circle cx="895.2" cy="360.8" r="2.2"/>
<circle cx="892.5" cy="371.4" r="2.2"/>
<circle cx="890.9" cy="359.8" r="2.2"/>
<circle cx="893.5" cy="367.5" r="2.2"/>
<circle cx="894.4" cy="365.9" r="2.2"/>
<circle cx="896.8" cy="358.1" r="2.2"/>
<circle cx="896.9" cy="359.9" r="2.2"/>
<circle cx="892.5" cy="366.8" r="2.2"/>
<circle cx="892" cy="372.5" r="2.2"/>
<circle cx="889.3" cy="372.4" r="2.2"/>
<circle cx="894.3" cy="357.8" r="2.2"/>
<circle cx="891.8" cy="360.6" r="2.2"/>
<circle cx="892.7" cy="360.8" r="2.2"/>
<circle cx="895.6" cy="362.6" r="2.2"/>
<circle cx="890.8" cy="371.1" r="2.2"/>
<circle cx="890.5" cy="369.7" r="2.2"/>
<circle cx="894.1" cy="356.3" r="2.2"/>
<circle cx="891" cy="361.9" r="2.2"/>
<circle cx="889.3" cy="370.6" r="2.2"/>
<circle cx="890.1" cy="375.1" r="2.2"/>
<circle cx="890.9" cy="370.5" r="2.2"/>
<circle cx="891.2" cy="363.6" r="2.2"/>
<circle cx="894.5" cy="362.5" r="2.2"/>
<circle cx="892.4" cy="357.1" r="2.2"/>
<circle cx="893.8" cy="364.9" r="2.2"/>
<circle cx="892.5" cy="364.5" r="2.2"/>
<circle cx="896.7" cy="366.4" r="2.2"/>
<circle cx="898" cy="360.7" r="2.2"/>
<circle cx="890.7" cy="363.4" r="2.2"/>
<circle cx="894.1" cy="369.4" r="2.2"/>
<circle cx="893.2" cy="367.5" r="2.2"/>
<circle cx="897.9" cy="362" r="2.2"/>
<circle cx="896.3" cy="358.3" r="2.2"/>
<circle cx="889.1" cy="362.2" r="2.2"/>
<circle cx="899.1" cy="357.7" r="2.2"/>
<circle cx="894.8" cy="368.9" r="2.2"/>
<circle cx="895.8" cy="366" r="2.2"/>
<circle cx="895.5" cy="359.1" r="2.2"/>
<circle cx="888.4" cy="369.3" r="2.2"/>
<circle cx="901.1" cy="355.9" r="2.2"/>
<circle cx="900.8" cy="356.3" r="2.2"/>
<circle cx="888.7" cy="378.2" r="2.2"/>
<circle cx="895.7" cy="378.2" r="2.2"/>
<circle cx="894.2" cy="377.2" r="2.2"/>
<circle cx="915.1" cy="371.6" r="2.2"/>
<circle cx="919.5" cy="380.2" r="2.2"/>
<circle cx="913.3" cy="368.1" r="2.2"/>
<circle cx="916.6" cy="380.1" r="2.2"/>
<circle cx="913.1" cy="375.6" r="2.2"/>
<circle cx="912.6" cy="374.7" r="2.2"/>
<circle cx="919.6" cy="383.3" r="2.2"/>
<circle cx="917.1" cy="384.9" r="2.2"/>
<circle cx="912.9" cy="370.5" r="2.2"/>
<circle cx="920.8" cy="386.2" r="2.2"/>
<circle cx="912.2" cy="368.7" r="2.2"/>
<circle cx="914.9" cy="371.1" r="2.2"/>
<circle cx="917" cy="375.2" r="2.2"/>
<circle cx="912.9" cy="370.7" r="2.2"/>
<circle cx="917.8" cy="377.8" r="2.2"/>
<circle cx="911.6" cy="377.4" r="2.2"/>
<circle cx="915.1" cy="377" r="2.2"/>
<circle cx="911" cy="376.2" r="2.2"/>
<circle cx="916.7" cy="381.2" r="2.2"/>
<circle cx="920" cy="382.3" r="2.2"/>
<circle cx="913.9" cy="373.9" r="2.2"/>
<circle cx="915.5" cy="377.1" r="2.2"/>
<circle cx="919.1" cy="385.5" r="2.2"/>
<circle cx="916.9" cy="383.9" r="2.2"/>
<circle cx="913.1" cy="374.2" r="2.2"/>
<circle cx="913.9" cy="377.3" r="2.2"/>
<circle cx="919.2" cy="386.9" r="2.2"/>
<circle cx="917.5" cy="378.8" r="2.2"/>
<circle cx="913.8" cy="377.2" r="2.2"/>
<circle cx="919.6" cy="386.2" r="2.2"/>
<circle cx="916.7" cy="373.1" r="2.2"/>
<circle cx="913.7" cy="368.9" r="2.2"/>
<circle cx="919" cy="386.7" r="2.2"/>
<circle cx="917.3" cy="382.6" r="2.2"/>
<circle cx="912.5" cy="368.4" r="2.2"/>
<circle cx="915.4" cy="377.8" r="2.2"/>
<circle cx="911.2" cy="368.9" r="2.2"/>
<circle cx="911.6" cy="370.3" r="2.2"/>
<circle cx="911.9" cy="370.4" r="2.2"/>
<circle cx="911.1" cy="371.8" r="2.2"/>
<circle cx="920.2" cy="383.7" r="2.2"/>
<circle cx="913.3" cy="373.3" r="2.2"/>
<circle cx="916.7" cy="385.8" r="2.2"/>
<circle cx="911.9" cy="370.6" r="2.2"/>
<circle cx="922.1" cy="385.8" r="2.2"/>
<circle cx="918.3" cy="385.6" r="2.2"/>
<circle cx="910.3" cy="371.3" r="2.2"/>
<circle cx="916" cy="380.1" r="2.2"/>
<circle cx="918.6" cy="382.1" r="2.2"/>
<circle cx="911.5" cy="372.8" r="2.2"/>
<circle cx="916.1" cy="376.6" r="2.2"/>
<circle cx="912.3" cy="375.1" r="2.2"/>
<circle cx="914.7" cy="373.4" r="2.2"/>
<circle cx="919.5" cy="383.6" r="2.2"/>
<circle cx="916.1" cy="378" r="2.2"/>
<circle cx="915.5" cy="378.5" r="2.2"/>
<circle cx="916.6" cy="377.9" r="2.2"/>
<circle cx="917" cy="375.6" r="2.2"/>
<circle cx="920.4" cy="385.3" r="2.2"/>
<circle cx="916.1" cy="387.3" r="2.2"/>
<circle cx="919.4" cy="388" r="2.2"/>
<circle cx="919.5" cy="383.9" r="2.2"/>
<circle cx="915.6" cy="380.9" r="2.2"/>
<circle cx="914" cy="382.5" r="2.2"/>
<circle cx="919.6" cy="383.7" r="2.2"/>
<circle cx="919.7" cy="384.9" r="2.2"/>
<circle cx="913.5" cy="371.6" r="2.2"/>
<circle cx="911.2" cy="373.1" r="2.2"/>
<circle cx="916.1" cy="377.2" r="2.2"/>
<circle cx="918.4" cy="380.8" r="2.2"/>
<circle cx="915.1" cy="369.2" r="2.2"/>
<circle cx="917.6" cy="381.8" r="2.2"/>
<circle cx="910.6" cy="369.8" r="2.2"/>
<circle cx="911.7" cy="377.5" r="2.2"/>
<circle cx="917.4" cy="375.7" r="2.2"/>
<circle cx="916.6" cy="383.5" r="2.2"/>
<circle cx="919.3" cy="380.1" r="2.2"/>
<circle cx="915.2" cy="378.9" r="2.2"/>
<circle cx="909.8" cy="373.6" r="2.2"/>
<circle cx="920.1" cy="382.8" r="2.2"/>
<circle cx="923.7" cy="386.1" r="2.2"/>
<circle cx="913.2" cy="373.3" r="2.2"/>
<circle cx="919.3" cy="382.3" r="2.2"/>
<circle cx="922.8" cy="382.8" r="2.2"/>
<circle cx="920" cy="385.2" r="2.2"/>
<circle cx="830.3" cy="523.4" r="2.2"/>
<circle cx="822.5" cy="540" r="2.2"/>
<circle cx="822.5" cy="534.3" r="2.2"/>
<circle cx="822.7" cy="536.4" r="2.2"/>
<circle cx="825.1" cy="528.2" r="2.2"/>
<circle cx="821.4" cy="530.1" r="2.2"/>
<circle cx="832.4" cy="519.9" r="2.2"/>
<circle cx="828.3" cy="525.4" r="2.2"/>
<circle cx="826.1" cy="522.5" r="2.2"/>
<circle cx="817.5" cy="534.3" r="2.2"/>
<circle cx="831.1" cy="525.5" r="2.2"/>
<circle cx="817.6" cy="536.4" r="2.2"/>
<circle cx="822" cy="526.7" r="2.2"/>
<circle cx="827" cy="538" r="2.2"/>
<circle cx="831.8" cy="509.1" r="2.2"/>
<circle cx="821.7" cy="534.2" r="2.2"/>
<circle cx="824.8" cy="535.2" r="2.2"/>
<circle cx="832.3" cy="516.4" r="2.2"/>
<circle cx="831.8" cy="523.4" r="2.2"/>
<circle cx="831.5" cy="515.3" r="2.2"/>
<circle cx="837.7" cy="514.6" r="2.2"/>
<circle cx="820.2" cy="538.2" r="2.2"/>
<circle cx="827.2" cy="521.1" r="2.2"/>
<circle cx="822.7" cy="524.7" r="2.2"/>
<circle cx="829.3" cy="530.3" r="2.2"/>
<circle cx="829.4" cy="520.5" r="2.2"/>
<circle cx="827.2" cy="524.9" r="2.2"/>
<circle cx="831.5" cy="529.6" r="2.2"/>
<circle cx="827.3" cy="521.1" r="2.2"/>
<circle cx="831.4" cy="521" r="2.2"/>
<circle cx="820.5" cy="537" r="2.2"/>
<circle cx="828.8" cy="528.5" r="2.2"/>
<circle cx="832.4" cy="517.8" r="2.2"/>
<circle cx="833.2" cy="520.6" r="2.2"/>
<circle cx="820.5" cy="538.4" r="2.2"/>
<circle cx="826.8" cy="526.4" r="2.2"/>
<circle cx="832.5" cy="514.5" r="2.2"/>
<circle cx="829.4" cy="519.7" r="2.2"/>
<circle cx="836.5" cy="519.5" r="2.2"/>
<circle cx="826.2" cy="534.1" r="2.2"/>
<circle cx="826.5" cy="525.1" r="2.2"/>
<circle cx="832" cy="509.9" r="2.2"/>
<circle cx="823.7" cy="529.4" r="2.2"/>
<circle cx="826.3" cy="519.3" r="2.2"/>
<circle cx="833" cy="520" r="2.2"/>
<circle cx="837.7" cy="513.8" r="2.2"/>
<circle cx="833.3" cy="517.3" r="2.2"/>
<circle cx="835.6" cy="511.8" r="2.2"/>
<circle cx="824.3" cy="531.5" r="2.2"/>
<circle cx="826.5" cy="528.5" r="2.2"/>
<circle cx="829.7" cy="515.7" r="2.2"/>
<circle cx="831.1" cy="514.7" r="2.2"/>
<circle cx="825" cy="521.4" r="2.2"/>
<circle cx="826.9" cy="532.1" r="2.2"/>
<circle cx="823.2" cy="525.7" r="2.2"/>
<circle cx="827.8" cy="530.3" r="2.2"/>
<circle cx="831" cy="514.8" r="2.2"/>
<circle cx="821.9" cy="539" r="2.2"/>
<circle cx="828.2" cy="529.9" r="2.2"/>
<circle cx="834.9" cy="513.6" r="2.2"/>
<circle cx="821.3" cy="533.8" r="2.2"/>
<circle cx="839.6" cy="512.8" r="2.2"/>
<circle cx="822.1" cy="532" r="2.2"/>
<circle cx="825.1" cy="531.3" r="2.2"/>
<circle cx="823.3" cy="529.8" r="2.2"/>
<circle cx="831.4" cy="519.1" r="2.2"/>
<circle cx="826" cy="533.3" r="2.2"/>
<circle cx="824.3" cy="525.4" r="2.2"/>
<circle cx="834.7" cy="523.7" r="2.2"/>
<circle cx="816" cy="536.3" r="2.2"/>
<circle cx="834.9" cy="511" r="2.2"/>
<circle cx="830.1" cy="527.5" r="2.2"/>
<circle cx="828.4" cy="518" r="2.2"/>
<circle cx="831.9" cy="515.9" r="2.2"/>
<circle cx="826.7" cy="533.5" r="2.2"/>
<circle cx="824.5" cy="522.4" r="2.2"/>
<circle cx="831.4" cy="516.1" r="2.2"/>
<circle cx="826.7" cy="523" r="2.2"/>
<circle cx="825.4" cy="529.4" r="2.2"/>
<circle cx="825.4" cy="533.1" r="2.2"/>
<circle cx="826.2" cy="532.3" r="2.2"/>
<circle cx="824.6" cy="529.1" r="2.2"/>
<circle cx="823.8" cy="526.1" r="2.2"/>
<circle cx="823.8" cy="530.9" r="2.2"/>
<circle cx="828.6" cy="519.2" r="2.2"/>
<circle cx="836.2" cy="514.1" r="2.2"/>
<circle cx="823.9" cy="525.4" r="2.2"/>
<circle cx="833.1" cy="515.3" r="2.2"/>
<circle cx="825.2" cy="532.5" r="2.2"/>
<circle cx="832" cy="513.8" r="2.2"/>
<circle cx="826.8" cy="524.6" r="2.2"/>
<circle cx="827.6" cy="516" r="2.2"/>
<circle cx="834.7" cy="520.3" r="2.2"/>
<circle cx="825.1" cy="532.4" r="2.2"/>
<circle cx="834.4" cy="519" r="2.2"/>
<circle cx="820.7" cy="537.4" r="2.2"/>
<circle cx="830.7" cy="519.8" r="2.2"/>
<circle cx="830" cy="519.1" r="2.2"/>
<circle cx="819.6" cy="535" r="2.2"/>
<circle cx="834.3" cy="510.4" r="2.2"/>
<circle cx="837.1" cy="511.5" r="2.2"/>
<circle cx="822" cy="536.3" r="2.2"/>
<circle cx="832.4" cy="512.8" r="2.2"/>
<circle cx="829" cy="520.3" r="2.2"/>
<circle cx="830.9" cy="517" r="2.2"/>
<circle cx="828.5" cy="527.9" r="2.2"/>
<circle cx="826.9" cy="525.1" r="2.2"/>
<circle cx="824.1" cy="532.7" r="2.2"/>
<circle cx="823.5" cy="537.8" r="2.2"/>
<circle cx="825.8" cy="534.3" r="2.2"/>
<circle cx="814.8" cy="525.5" r="2.2"/>
<circle cx="811.9" cy="525.9" r="2.2"/>
<circle cx="812.5" cy="523.8" r="2.2"/>
<circle cx="820.8" cy="529.4" r="2.2"/>
<circle cx="818.6" cy="527.8" r="2.2"/>
<circle cx="814.5" cy="523.6" r="2.2"/>
<circle cx="815" cy="525.7" r="2.2"/>
<circle cx="816.5" cy="526.6" r="2.2"/>
<circle cx="818" cy="527" r="2.2"/>
<circle cx="815.3" cy="527.1" r="2.2"/>
<circle cx="818.7" cy="528" r="2.2"/>
<circle cx="811.5" cy="524.3" r="2.2"/>
<circle cx="812.4" cy="525.5" r="2.2"/>
<circle cx="816.3" cy="527.9" r="2.2"/>
<circle cx="811.2" cy="526.3" r="2.2"/>
<circle cx="817.5" cy="527.9" r="2.2"/>
<circle cx="813.6" cy="525" r="2.2"/>
<circle cx="820.4" cy="526.1" r="2.2"/>
<circle cx="814.4" cy="526.5" r="2.2"/>
<circle cx="814.8" cy="527.2" r="2.2"/>
<circle cx="821.5" cy="529.2" r="2.2"/>
<circle cx="820.4" cy="529.4" r="2.2"/>
<circle cx="801.4" cy="533.6" r="2.2"/>
<circle cx="803.9" cy="531.1" r="2.2"/>
<circle cx="799.9" cy="534.6" r="2.2"/>
<circle cx="803.4" cy="533.6" r="2.2"/>
<circle cx="834.7" cy="506.8" r="2.2"/>
</g>
<g fill="#067c14" fill-opacity="0.68">
<circle cx="881.5" cy="363.1" r="2.2"/>
<circle cx="883.5" cy="361.8" r="2.2"/>
<circle cx="880" cy="361.9" r="2.2"/>
<circle cx="883.8" cy="364.5" r="2.2"/>
<circle cx="878.1" cy="369.4" r="2.2"/>
<circle cx="884.2" cy="362.6" r="2.2"/>
<circle cx="880.4" cy="369.3" r="2.2"/>
<circle cx="878.6" cy="370.4" r="2.2"/>
<circle cx="883.4" cy="365.9" r="2.2"/>
<circle cx="881.5" cy="362.3" r="2.2"/>
<circle cx="885.3" cy="360.6" r="2.2"/>
<circle cx="883.2" cy="359.5" r="2.2"/>
<circle cx="882" cy="364.2" r="2.2"/>
<circle cx="881.8" cy="368.6" r="2.2"/>
<circle cx="880.6" cy="367.2" r="2.2"/>
<circle cx="880.1" cy="367.8" r="2.2"/>
<circle cx="881.1" cy="367.3" r="2.2"/>
<circle cx="878.4" cy="369.6" r="2.2"/>
<circle cx="878.9" cy="370.6" r="2.2"/>
<circle cx="878.9" cy="365.7" r="2.2"/>
<circle cx="881.1" cy="363.1" r="2.2"/>
<circle cx="880.3" cy="367.4" r="2.2"/>
<circle cx="881.6" cy="367.4" r="2.2"/>
<circle cx="883.1" cy="362.4" r="2.2"/>
<circle cx="883.7" cy="364.2" r="2.2"/>
<circle cx="878.4" cy="370.3" r="2.2"/>
<circle cx="882.4" cy="360.7" r="2.2"/>
<circle cx="879.5" cy="370.1" r="2.2"/>
<circle cx="884.1" cy="363.4" r="2.2"/>
<circle cx="884.8" cy="360.7" r="2.2"/>
<circle cx="879.3" cy="369.1" r="2.2"/>
<circle cx="881" cy="369.7" r="2.2"/>
<circle cx="881" cy="365.3" r="2.2"/>
<circle cx="882.1" cy="364.4" r="2.2"/>
<circle cx="884.8" cy="363.5" r="2.2"/>
<circle cx="881.4" cy="370.8" r="2.2"/>
<circle cx="883.2" cy="367.4" r="2.2"/>
<circle cx="881.8" cy="360.2" r="2.2"/>
<circle cx="882.7" cy="362.9" r="2.2"/>
<circle cx="880.3" cy="372.5" r="2.2"/>
<circle cx="884.8" cy="361.4" r="2.2"/>
<circle cx="884" cy="359.8" r="2.2"/>
<circle cx="882.5" cy="360.4" r="2.2"/>
<circle cx="881" cy="364.6" r="2.2"/>
<circle cx="881.9" cy="366.2" r="2.2"/>
<circle cx="879" cy="364.9" r="2.2"/>
<circle cx="877.8" cy="371.1" r="2.2"/>
<circle cx="879.8" cy="365" r="2.2"/>
<circle cx="881.4" cy="364" r="2.2"/>
<circle cx="880.1" cy="370.7" r="2.2"/>
<circle cx="883.3" cy="364.6" r="2.2"/>
<circle cx="879.2" cy="365.7" r="2.2"/>
<circle cx="879.3" cy="361.7" r="2.2"/>
<circle cx="880.2" cy="363.3" r="2.2"/>
<circle cx="884.6" cy="361.7" r="2.2"/>
<circle cx="904.2" cy="369.5" r="2.2"/>
<circle cx="901.6" cy="369.3" r="2.2"/>
<circle cx="903.6" cy="370.7" r="2.2"/>
<circle cx="902.8" cy="378.2" r="2.2"/>
<circle cx="901.3" cy="367" r="2.2"/>
<circle cx="903" cy="374.1" r="2.2"/>
<circle cx="903.9" cy="370.6" r="2.2"/>
<circle cx="902.1" cy="368" r="2.2"/>
<circle cx="903.7" cy="376.6" r="2.2"/>
<circle cx="902.4" cy="370" r="2.2"/>
<circle cx="903" cy="367.9" r="2.2"/>
<circle cx="902.7" cy="378.3" r="2.2"/>
<circle cx="904.6" cy="371.9" r="2.2"/>
<circle cx="901.9" cy="371.4" r="2.2"/>
<circle cx="901.1" cy="373.7" r="2.2"/>
<circle cx="902.1" cy="374.5" r="2.2"/>
<circle cx="900.2" cy="366.5" r="2.2"/>
<circle cx="901.1" cy="373.3" r="2.2"/>
<circle cx="900.6" cy="369" r="2.2"/>
<circle cx="900.9" cy="372.4" r="2.2"/>
<circle cx="900.6" cy="373.3" r="2.2"/>
<circle cx="903.6" cy="366.8" r="2.2"/>
<circle cx="899.8" cy="372.2" r="2.2"/>
<circle cx="901.7" cy="373.4" r="2.2"/>
<circle cx="904.7" cy="368.1" r="2.2"/>
<circle cx="901.2" cy="370.9" r="2.2"/>
<circle cx="903.9" cy="375.5" r="2.2"/>
<circle cx="906.2" cy="370.2" r="2.2"/>
<circle cx="900.4" cy="376.1" r="2.2"/>
<circle cx="900.2" cy="373.7" r="2.2"/>
<circle cx="901.3" cy="365.2" r="2.2"/>
<circle cx="899" cy="377.6" r="2.2"/>
<circle cx="903" cy="368.6" r="2.2"/>
<circle cx="900.4" cy="376.5" r="2.2"/>
<circle cx="899.3" cy="371.8" r="2.2"/>
<circle cx="901.4" cy="364.9" r="2.2"/>
<circle cx="903" cy="376.5" r="2.2"/>
<circle cx="905.3" cy="374.7" r="2.2"/>
<circle cx="903.3" cy="367.7" r="2.2"/>
<circle cx="902" cy="377.3" r="2.2"/>
<circle cx="902.1" cy="369.5" r="2.2"/>
<circle cx="900.6" cy="365.6" r="2.2"/>
<circle cx="901.6" cy="366.4" r="2.2"/>
<circle cx="903" cy="367.1" r="2.2"/>
<circle cx="900.4" cy="377.5" r="2.2"/>
<circle cx="898.2" cy="377.1" r="2.2"/>
<circle cx="906.1" cy="371.3" r="2.2"/>
<circle cx="902.6" cy="376" r="2.2"/>
<circle cx="898.1" cy="375.8" r="2.2"/>
<circle cx="901.8" cy="375" r="2.2"/>
<circle cx="815.4" cy="515.5" r="2.2"/>
<circle cx="819.4" cy="517.3" r="2.2"/>
<circle cx="813.8" cy="514.7" r="2.2"/>
<circle cx="816.7" cy="511.8" r="2.2"/>
<circle cx="823.5" cy="513.2" r="2.2"/>
<circle cx="803.9" cy="514.9" r="2.2"/>
<circle cx="805.6" cy="520.3" r="2.2"/>
<circle cx="820.8" cy="517.2" r="2.2"/>
<circle cx="820.6" cy="514.9" r="2.2"/>
<circle cx="808.7" cy="515" r="2.2"/>
<circle cx="818.7" cy="515.6" r="2.2"/>
<circle cx="814.7" cy="513.7" r="2.2"/>
<circle cx="815.9" cy="513.9" r="2.2"/>
<circle cx="823.9" cy="514.8" r="2.2"/>
<circle cx="808.4" cy="511.6" r="2.2"/>
<circle cx="814.4" cy="513.8" r="2.2"/>
<circle cx="820.8" cy="515.5" r="2.2"/>
<circle cx="807" cy="513" r="2.2"/>
<circle cx="823.2" cy="512.7" r="2.2"/>
<circle cx="804.2" cy="516.4" r="2.2"/>
<circle cx="823.7" cy="516.3" r="2.2"/>
<circle cx="807.4" cy="517.3" r="2.2"/>
<circle cx="815" cy="513.4" r="2.2"/>
<circle cx="823.5" cy="515.6" r="2.2"/>
<circle cx="807.2" cy="517" r="2.2"/>
<circle cx="806.5" cy="515.3" r="2.2"/>
<circle cx="816.4" cy="517.9" r="2.2"/>
<circle cx="806.5" cy="517.1" r="2.2"/>
<circle cx="806.5" cy="514" r="2.2"/>
<circle cx="821.1" cy="514.9" r="2.2"/>
<circle cx="823.3" cy="512.6" r="2.2"/>
<circle cx="820.8" cy="514.3" r="2.2"/>
<circle cx="822" cy="514.2" r="2.2"/>
<circle cx="821.5" cy="517.1" r="2.2"/>
<circle cx="820.3" cy="516.4" r="2.2"/>
<circle cx="817.5" cy="517.7" r="2.2"/>
<circle cx="810.1" cy="511.3" r="2.2"/>
<circle cx="821.5" cy="515.8" r="2.2"/>
<circle cx="818" cy="513.8" r="2.2"/>
<circle cx="818.4" cy="516.2" r="2.2"/>
<circle cx="809.3" cy="513.8" r="2.2"/>
<circle cx="809" cy="514.9" r="2.2"/>
<circle cx="821.8" cy="513.9" r="2.2"/>
<circle cx="822.4" cy="514.2" r="2.2"/>
<circle cx="818.4" cy="517.8" r="2.2"/>
<circle cx="806.5" cy="517" r="2.2"/>
<circle cx="809.8" cy="512.4" r="2.2"/>
<circle cx="805.8" cy="515.7" r="2.2"/>
<circle cx="814.1" cy="518.7" r="2.2"/>
<circle cx="821" cy="514.8" r="2.2"/>
<circle cx="811.3" cy="516.5" r="2.2"/>
<circle cx="822.3" cy="514.5" r="2.2"/>
<circle cx="819.7" cy="515.1" r="2.2"/>
<circle cx="805.7" cy="516" r="2.2"/>
<circle cx="808.9" cy="515.3" r="2.2"/>
<circle cx="817.9" cy="516.2" r="2.2"/>
<circle cx="813" cy="513.9" r="2.2"/>
<circle cx="804.4" cy="515.8" r="2.2"/>
<circle cx="820.5" cy="515.6" r="2.2"/>
<circle cx="818.8" cy="515.1" r="2.2"/>
<circle cx="818.8" cy="509.3" r="2.2"/>
<circle cx="813.8" cy="510.9" r="2.2"/>
<circle cx="815.4" cy="511.7" r="2.2"/>
<circle cx="819.5" cy="510.5" r="2.2"/>
<circle cx="815.5" cy="512" r="2.2"/>
<circle cx="820.4" cy="509.4" r="2.2"/>
<circle cx="816" cy="510.2" r="2.2"/>
<circle cx="821.2" cy="510.8" r="2.2"/>
<circle cx="817.8" cy="510.3" r="2.2"/>
<circle cx="820.5" cy="510" r="2.2"/>
<circle cx="813.9" cy="512.2" r="2.2"/>
<circle cx="817.3" cy="510.8" r="2.2"/>
</g>
<circle cx="821" cy="504.3" r="2.2" fill="#0a8018" fill-opacity="0.35"/>
<line x1="682.8" y1="550.5" x2="682.8" y2="553.5" stroke="#111" stroke-width="0.8"/>
<text x="682.8" y="566.5" class="tk2" text-anchor="middle">−20</text>
<line x1="725.4" y1="550.5" x2="725.4" y2="553.5" stroke="#111" stroke-width="0.8"/>
<text x="725.4" y="566.5" class="tk2" text-anchor="middle">−15</text>
<line x1="768" y1="550.5" x2="768" y2="553.5" stroke="#111" stroke-width="0.8"/>
<text x="768" y="566.5" class="tk2" text-anchor="middle">−10</text>
<line x1="810.3" y1="550.5" x2="810.3" y2="553.5" stroke="#111" stroke-width="0.8"/>
<text x="810.3" y="566.5" class="tk2" text-anchor="middle">−5</text>
<line x1="853" y1="550.5" x2="853" y2="553.5" stroke="#111" stroke-width="0.8"/>
<text x="853" y="566.5" class="tk2" text-anchor="middle">0</text>
<line x1="895.3" y1="550.5" x2="895.3" y2="553.5" stroke="#111" stroke-width="0.8"/>
<text x="895.3" y="566.5" class="tk2" text-anchor="middle">5</text>
<line x1="646.4" y1="362.2" x2="649.4" y2="362.2" stroke="#111" stroke-width="0.8"/>
<text x="641.9" y="366" class="tk2" text-anchor="end">5</text>
<line x1="646.4" y1="394" x2="649.4" y2="394" stroke="#111" stroke-width="0.8"/>
<text x="641.9" y="397.8" class="tk2" text-anchor="end">0</text>
<line x1="646.4" y1="426" x2="649.4" y2="426" stroke="#111" stroke-width="0.8"/>
<text x="641.9" y="429.8" class="tk2" text-anchor="end">5</text>
<line x1="646.4" y1="458.2" x2="649.4" y2="458.2" stroke="#111" stroke-width="0.8"/>
<text x="641.9" y="462" class="tk2" text-anchor="end">0</text>
<line x1="646.4" y1="490" x2="649.4" y2="490" stroke="#111" stroke-width="0.8"/>
<text x="641.9" y="493.8" class="tk2" text-anchor="end">·5</text>
<line x1="646.4" y1="522" x2="649.4" y2="522" stroke="#111" stroke-width="0.8"/>
<text x="641.9" y="525.8" class="tk2" text-anchor="end">0</text>
<line x1="646.4" y1="553.5" x2="649.4" y2="553.5" stroke="#111" stroke-width="0.8"/>
<text x="641.9" y="557.3" class="tk2" text-anchor="end">5</text>
<rect x="821.7" y="403.6" width="99" height="70.4" rx="2" fill="#fff" fill-opacity="0.85" stroke="#ccc" stroke-width="0.8"/>
<circle cx="835.7" cy="412" r="1.9" fill="#d4202c" fill-opacity="0.5"/>
<text x="853.5" y="415.2" class="lb" style="font-size:11.9px">Original Data</text>
<circle cx="835.7" cy="426" r="1.9" fill="#e8e800" fill-opacity="0.4"/>
<text x="853.5" y="429.2" class="lb" style="font-size:10.1px">ROS</text>
<circle cx="835.7" cy="439.4" r="1.9" fill="#111" fill-opacity="0.6"/>
<text x="853.5" y="442.6" class="lb" style="font-size:10.1px">SMOTE</text>
<circle cx="835.7" cy="452.5" r="1.9" fill="#0a0af0" fill-opacity="0.45"/>
<text x="853.5" y="455.7" class="lb" style="font-size:10.1px">CGAN</text>
<circle cx="835.7" cy="466.2" r="1.9" fill="#0a7d1e" fill-opacity="0.5"/>
<text x="853.5" y="469.4" class="lb" style="font-size:10.1px">CGAN – GAIN</text>
</g>
</svg>

<div id="h1" class="abs h">Training process of CGAN</div>
<div id="h3" class="abs h">Generate Result and TSNE distribution</div>
<div id="h2" class="abs h">Maximum Mean Discrepancy</div>

<svg class="abs" style="left:0;top:0" width="1080" height="805" viewBox="0 0 1080 805">
<g id="radar">
<circle cx="289.8" cy="613.7" r="82.8" fill="#fff" stroke="none"/>
<circle cx="289.8" cy="613.7" r="16" fill="none" stroke="#d8d8d8" stroke-width="0.5"/>
<circle cx="289.8" cy="613.7" r="32" fill="none" stroke="#d8d8d8" stroke-width="0.5"/>
<circle cx="289.8" cy="613.7" r="48" fill="none" stroke="#d8d8d8" stroke-width="0.5"/>
<circle cx="289.8" cy="613.7" r="64" fill="none" stroke="#d8d8d8" stroke-width="0.5"/>
<line x1="289.8" y1="613.7" x2="372.6" y2="613.7" stroke="#d8d8d8" stroke-width="0.5"/>
<line x1="289.8" y1="613.7" x2="315.4" y2="535" stroke="#d8d8d8" stroke-width="0.5"/>
<line x1="289.8" y1="613.7" x2="222.8" y2="565" stroke="#d8d8d8" stroke-width="0.5"/>
<line x1="289.8" y1="613.7" x2="222.8" y2="662.4" stroke="#d8d8d8" stroke-width="0.5"/>
<line x1="289.8" y1="613.7" x2="315.4" y2="692.4" stroke="#d8d8d8" stroke-width="0.5"/>
<polygon points="369.8,613.7 314.5,537.6 231.9,571.6 225.1,660.7 314.5,689.8" fill="#1f77b4" fill-opacity="0.25" stroke="#1f77b4" stroke-opacity="0.32" stroke-width="1.2"/>
<polygon points="367.4,613.7 314.5,537.6 225.1,566.7 225.1,660.7 312,682.2" fill="#ff7f0e" fill-opacity="0.25" stroke="#ff7f0e" stroke-opacity="0.32" stroke-width="1.2"/>
<polygon points="325,613.7 305.4,565.8 250.3,585 271.7,626.9 302.9,654" fill="#2ca02c" fill-opacity="0.25" stroke="#2ca02c" stroke-opacity="0.32" stroke-width="1.2"/>
<polygon points="309.8,613.7 302.7,574.1 248.1,583.4 271.7,626.9 293.6,625.5" fill="#d62728" fill-opacity="0.25" stroke="#d62728" stroke-opacity="0.32" stroke-width="1.2"/>
<circle cx="369.8" cy="613.7" r="2.1" fill="#1f77b4" fill-opacity="0.5"/>
<circle cx="314.5" cy="537.6" r="2.1" fill="#1f77b4" fill-opacity="0.5"/>
<circle cx="231.9" cy="571.6" r="2.1" fill="#1f77b4" fill-opacity="0.5"/>
<circle cx="225.1" cy="660.7" r="2.1" fill="#1f77b4" fill-opacity="0.5"/>
<circle cx="314.5" cy="689.8" r="2.1" fill="#1f77b4" fill-opacity="0.5"/>
<circle cx="367.4" cy="613.7" r="2.1" fill="#ff7f0e" fill-opacity="0.5"/>
<circle cx="314.5" cy="537.6" r="2.1" fill="#ff7f0e" fill-opacity="0.5"/>
<circle cx="225.1" cy="566.7" r="2.1" fill="#ff7f0e" fill-opacity="0.5"/>
<circle cx="225.1" cy="660.7" r="2.1" fill="#ff7f0e" fill-opacity="0.5"/>
<circle cx="312" cy="682.2" r="2.1" fill="#ff7f0e" fill-opacity="0.5"/>
<circle cx="325" cy="613.7" r="2.1" fill="#2ca02c" fill-opacity="0.5"/>
<circle cx="305.4" cy="565.8" r="2.1" fill="#2ca02c" fill-opacity="0.5"/>
<circle cx="250.3" cy="585" r="2.1" fill="#2ca02c" fill-opacity="0.5"/>
<circle cx="271.7" cy="626.9" r="2.1" fill="#2ca02c" fill-opacity="0.5"/>
<circle cx="302.9" cy="654" r="2.1" fill="#2ca02c" fill-opacity="0.5"/>
<circle cx="309.8" cy="613.7" r="2.1" fill="#d62728" fill-opacity="0.5"/>
<circle cx="302.7" cy="574.1" r="2.1" fill="#d62728" fill-opacity="0.5"/>
<circle cx="248.1" cy="583.4" r="2.1" fill="#d62728" fill-opacity="0.5"/>
<circle cx="271.7" cy="626.9" r="2.1" fill="#d62728" fill-opacity="0.5"/>
<circle cx="293.6" cy="625.5" r="2.1" fill="#d62728" fill-opacity="0.5"/>
<circle cx="289.8" cy="613.7" r="82.8" fill="none" stroke="#111" stroke-width="1.1"/>
<text x="310.2" y="606.5" class="tk" style="font-size:6.9px;letter-spacing:0.8px" text-anchor="middle" fill="#333">0.2</text>
<text x="325.3" y="600.3" class="tk" style="font-size:6.9px;letter-spacing:0.8px" text-anchor="middle" fill="#333">0.4</text>
<text x="339.5" y="594.1" class="tk" style="font-size:6.9px;letter-spacing:0.8px" text-anchor="middle" fill="#333">0.6</text>
<text x="354.4" y="588.3" class="tk" style="font-size:6.9px;letter-spacing:0.8px" text-anchor="middle" fill="#333">0.8</text>
<text x="369.3" y="582.1" class="tk" style="font-size:6.9px;letter-spacing:0.8px" text-anchor="middle" fill="#333">1.0</text>
<text x="316.5" y="529.6" class="lb" style="font-size:9px" text-anchor="middle">RMSE</text>
<text x="211" y="563.5" class="lb" style="font-size:9px" text-anchor="middle">MMD</text>
<text x="388.4" y="615.7" class="lb" style="font-size:9px" text-anchor="middle">MSE</text>
<text x="206.2" y="672.5" class="lb" style="font-size:7.5px" text-anchor="middle">Wasserstein</text>
<text x="312.9" y="705.1" class="lb" style="font-size:9.3px" text-anchor="middle">Error rate</text>
<rect x="290.5" y="655" width="74.5" height="31.5" rx="1.5" fill="#fff" fill-opacity="0.8" stroke="#ccc" stroke-width="0.6"/>
<line x1="293" y1="660" x2="307" y2="660" stroke="#1f77b4" stroke-opacity="0.55" stroke-width="1.2"/>
<circle cx="300" cy="660" r="1.9" fill="#1f77b4" fill-opacity="0.6"/>
<text x="314" y="662.5" class="lb" style="font-size:7.5px">ROS</text>
<line x1="293" y1="667.3" x2="307" y2="667.3" stroke="#ff7f0e" stroke-opacity="0.55" stroke-width="1.2"/>
<circle cx="300" cy="667.3" r="1.9" fill="#ff7f0e" fill-opacity="0.6"/>
<text x="314" y="669.8" class="lb" style="font-size:7.5px">SMOTE</text>
<line x1="293" y1="674.6" x2="307" y2="674.6" stroke="#2ca02c" stroke-opacity="0.55" stroke-width="1.2"/>
<circle cx="300" cy="674.6" r="1.9" fill="#2ca02c" fill-opacity="0.6"/>
<text x="314" y="677.1" class="lb" style="font-size:7.5px">CGAN</text>
<line x1="293" y1="681.9" x2="307" y2="681.9" stroke="#d62728" stroke-opacity="0.55" stroke-width="1.2"/>
<circle cx="300" cy="681.9" r="1.9" fill="#d62728" fill-opacity="0.6"/>
<text x="314" y="684.4" class="lb" style="font-size:7.5px">CGAN – GAIN</text>
</g>
</svg>

<svg class="abs" style="left:805px;top:665px" width="150" height="140" viewBox="0 0 929 867">
  <g fill="#a9c4e2">
    <path d="M290 242 C350 160 450 120 545 135 C655 155 745 210 778 278 L705 287 C650 300 640 335 655 405 C600 340 530 295 460 305 C410 315 370 345 342 378 C338 330 322 282 290 242 Z"/>
    <path d="M335 468 C400 438 480 432 545 450 C600 468 640 498 665 520 C700 545 765 540 830 498 C832 560 792 622 720 632 C660 638 590 622 540 604 L540 584 C580 588 622 578 640 562 C610 532 565 515 520 505 C450 480 390 480 335 500 Z"/>
    <path d="M660 350 C700 335 770 325 802 335 C826 380 836 440 830 500 C780 505 720 492 690 470 C665 440 655 392 660 350 Z"/>
  </g>
  <path d="M40 470 C90 420 150 368 205 328 L215 400 C160 430 100 455 40 470 Z" fill="#c3d0e4" fill-opacity="0.9"/>
  <g fill="#3ca263">
    <path d="M55 510 C100 522 150 515 185 495 L200 520 C195 590 160 632 115 630 C75 625 55 580 55 510 Z"/>
  </g>
  <g fill="none" stroke="#3ca263" stroke-linecap="round" stroke-linejoin="round">
    <path d="M183 545 L232 275" stroke-width="30"/>
    <path d="M248 285 C262 400 300 690 352 815" stroke-width="78"/>
    <path d="M365 805 L455 452" stroke-width="24"/>
    <path d="M455 452 L488 585" stroke-width="12" stroke-linecap="butt"/>
    <path d="M190 566 L500 590" stroke-width="10" stroke-linecap="butt"/>
    <path d="M440 585 L533 600" stroke-width="26" stroke-linecap="butt"/>
  </g>
</svg>
<div class="rule" style="top:575.2px;height:1.6px"></div>
<div class="rule" style="top:597.5px;height:1.5px"></div>
<div class="rule" style="top:712px;height:1.6px"></div>
<div class="tc" style="left:541.3px;top:577.5px">Methods</div>
<div class="tc" style="left:643px;top:577.5px">RMSE</div>
<div class="tc" style="left:724px;top:577.5px">MMD</div>
<div class="tc" style="left:820px;top:577.5px">Wasserstein</div>
<div class="tc" style="left:915px;top:577.5px">Accuracy</div>
<div class="tc" style="left:541.3px;top:600.4px">Simulation</div>
<div class="tc" style="left:643px;top:600.4px">/</div>
<div class="tc" style="left:724px;top:600.4px">/</div>
<div class="tc" style="left:820px;top:600.4px">/</div>
<div class="tc" style="left:915px;top:600.4px">93.00%</div>
<div class="tc" style="left:541.3px;top:623.2px">ROS</div>
<div class="tc" style="left:643px;top:623.2px">0.16494</div>
<div class="tc" style="left:724px;top:623.2px">0.13742</div>
<div class="tc" style="left:820px;top:623.2px">0.21913</div>
<div class="tc" style="left:915px;top:623.2px">95.00%</div>
<div class="tc" style="left:541.3px;top:645.7px">SMOTE</div>
<div class="tc" style="left:643px;top:645.7px">0.16300</div>
<div class="tc" style="left:724px;top:645.7px">0.15376</div>
<div class="tc" style="left:820px;top:645.7px">0.21752</div>
<div class="tc" style="left:915px;top:645.7px">95.50%</div>
<div class="tc" style="left:541.3px;top:668.3px">CGAN</div>
<div class="tc" style="left:643px;top:668.3px">0.10593</div>
<div class="tc" style="left:724px;top:668.3px">0.08921</div>
<div class="tc" style="left:820px;top:668.3px">0.06487</div>
<div class="tc" style="left:915px;top:668.3px">97.25%</div>
<div class="tc" style="left:541.3px;top:691.1px">CGAN-GAIN</div>
<div class="tc" style="left:643px;top:691.1px">0.08628</div>
<div class="tc" style="left:724px;top:691.1px">0.09713</div>
<div class="tc" style="left:820px;top:691.1px">0.05894</div>
<div class="tc" style="left:915px;top:691.1px">99.25%</div>


<div id="ieee1" class="abs">IEEE CIYCEE</div>
<div id="ieee2" class="abs">Chengdu 2023</div>
</body>
</html>
